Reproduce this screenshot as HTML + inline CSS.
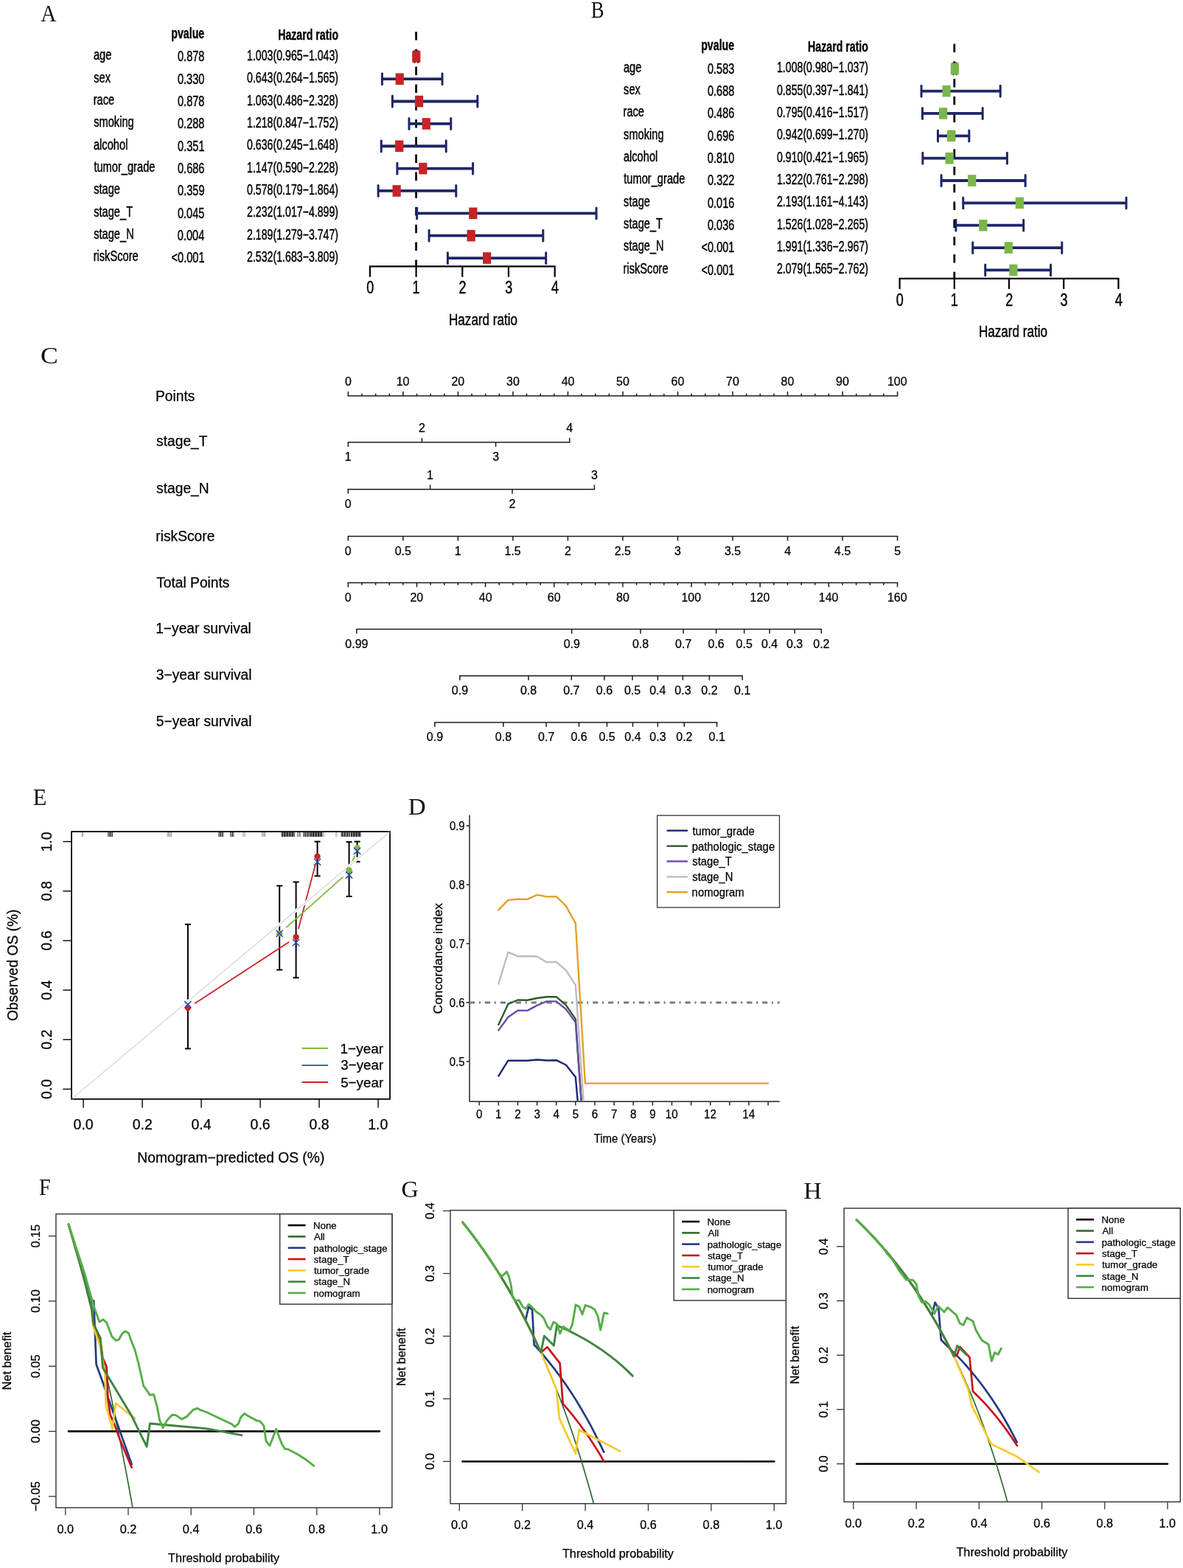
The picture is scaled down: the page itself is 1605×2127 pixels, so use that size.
<!DOCTYPE html>
<html><head><meta charset="utf-8"><title>Figure</title>
<style>html,body{margin:0;padding:0;background:#fff;} svg{display:block;}</style></head>
<body><svg width="1605" height="2127" viewBox="0 0 1605 2127">
<rect x="0" y="0" width="1605" height="2127" fill="#fff"/>
<text x="55.33" y="28.70" font-family='"Liberation Serif", "Times New Roman", serif' font-size="32.20" fill="#111" textLength="21.28" lengthAdjust="spacingAndGlyphs">A</text>
<text x="232.28" y="51.70" font-family='"Liberation Sans", Arial, sans-serif' font-size="20.50" font-weight="bold" fill="#000" textLength="45.01" lengthAdjust="spacingAndGlyphs" stroke="#000" stroke-width="0.35">pvalue</text>
<text x="377.16" y="53.80" font-family='"Liberation Sans", Arial, sans-serif' font-size="20.50" font-weight="bold" fill="#000" textLength="81.89" lengthAdjust="spacingAndGlyphs" stroke="#000" stroke-width="0.35">Hazard ratio</text>
<text x="126.98" y="81.40" font-family='"Liberation Sans", Arial, sans-serif' font-size="19.40" fill="#000" textLength="24.44" lengthAdjust="spacingAndGlyphs" stroke="#000" stroke-width="0.45">age</text>
<text x="241.02" y="83.30" font-family='"Liberation Sans", Arial, sans-serif' font-size="19.40" fill="#000" textLength="36.41" lengthAdjust="spacingAndGlyphs" stroke="#000" stroke-width="0.45">0.878</text>
<text x="335.06" y="82.00" font-family='"Liberation Sans", Arial, sans-serif' font-size="19.40" fill="#000" textLength="124.02" lengthAdjust="spacingAndGlyphs" stroke="#000" stroke-width="0.45">1.003(0.965−1.043)</text>
<text x="127.20" y="111.73" font-family='"Liberation Sans", Arial, sans-serif' font-size="19.40" fill="#000" textLength="22.79" lengthAdjust="spacingAndGlyphs" stroke="#000" stroke-width="0.45">sex</text>
<text x="240.95" y="113.63" font-family='"Liberation Sans", Arial, sans-serif' font-size="19.40" fill="#000" textLength="36.41" lengthAdjust="spacingAndGlyphs" stroke="#000" stroke-width="0.45">0.330</text>
<text x="335.06" y="112.33" font-family='"Liberation Sans", Arial, sans-serif' font-size="19.40" fill="#000" textLength="124.02" lengthAdjust="spacingAndGlyphs" stroke="#000" stroke-width="0.45">0.643(0.264−1.565)</text>
<text x="126.63" y="142.06" font-family='"Liberation Sans", Arial, sans-serif' font-size="19.40" fill="#000" textLength="28.49" lengthAdjust="spacingAndGlyphs" stroke="#000" stroke-width="0.45">race</text>
<text x="241.02" y="143.96" font-family='"Liberation Sans", Arial, sans-serif' font-size="19.40" fill="#000" textLength="36.41" lengthAdjust="spacingAndGlyphs" stroke="#000" stroke-width="0.45">0.878</text>
<text x="335.06" y="142.66" font-family='"Liberation Sans", Arial, sans-serif' font-size="19.40" fill="#000" textLength="124.02" lengthAdjust="spacingAndGlyphs" stroke="#000" stroke-width="0.45">1.063(0.486−2.328)</text>
<text x="127.20" y="172.39" font-family='"Liberation Sans", Arial, sans-serif' font-size="19.40" fill="#000" textLength="54.54" lengthAdjust="spacingAndGlyphs" stroke="#000" stroke-width="0.45">smoking</text>
<text x="241.02" y="174.29" font-family='"Liberation Sans", Arial, sans-serif' font-size="19.40" fill="#000" textLength="36.41" lengthAdjust="spacingAndGlyphs" stroke="#000" stroke-width="0.45">0.288</text>
<text x="335.06" y="172.99" font-family='"Liberation Sans", Arial, sans-serif' font-size="19.40" fill="#000" textLength="124.02" lengthAdjust="spacingAndGlyphs" stroke="#000" stroke-width="0.45">1.218(0.847−1.752)</text>
<text x="126.98" y="202.72" font-family='"Liberation Sans", Arial, sans-serif' font-size="19.40" fill="#000" textLength="46.42" lengthAdjust="spacingAndGlyphs" stroke="#000" stroke-width="0.45">alcohol</text>
<text x="241.09" y="204.62" font-family='"Liberation Sans", Arial, sans-serif' font-size="19.40" fill="#000" textLength="36.41" lengthAdjust="spacingAndGlyphs" stroke="#000" stroke-width="0.45">0.351</text>
<text x="335.06" y="203.32" font-family='"Liberation Sans", Arial, sans-serif' font-size="19.40" fill="#000" textLength="124.02" lengthAdjust="spacingAndGlyphs" stroke="#000" stroke-width="0.45">0.636(0.245−1.648)</text>
<text x="127.38" y="233.05" font-family='"Liberation Sans", Arial, sans-serif' font-size="19.40" fill="#000" textLength="83.05" lengthAdjust="spacingAndGlyphs" stroke="#000" stroke-width="0.45">tumor_grade</text>
<text x="241.02" y="234.95" font-family='"Liberation Sans", Arial, sans-serif' font-size="19.40" fill="#000" textLength="36.41" lengthAdjust="spacingAndGlyphs" stroke="#000" stroke-width="0.45">0.686</text>
<text x="335.06" y="233.65" font-family='"Liberation Sans", Arial, sans-serif' font-size="19.40" fill="#000" textLength="124.02" lengthAdjust="spacingAndGlyphs" stroke="#000" stroke-width="0.45">1.147(0.590−2.228)</text>
<text x="127.20" y="263.38" font-family='"Liberation Sans", Arial, sans-serif' font-size="19.40" fill="#000" textLength="35.83" lengthAdjust="spacingAndGlyphs" stroke="#000" stroke-width="0.45">stage</text>
<text x="241.08" y="265.28" font-family='"Liberation Sans", Arial, sans-serif' font-size="19.40" fill="#000" textLength="36.41" lengthAdjust="spacingAndGlyphs" stroke="#000" stroke-width="0.45">0.359</text>
<text x="335.06" y="263.98" font-family='"Liberation Sans", Arial, sans-serif' font-size="19.40" fill="#000" textLength="124.02" lengthAdjust="spacingAndGlyphs" stroke="#000" stroke-width="0.45">0.578(0.179−1.864)</text>
<text x="127.20" y="293.71" font-family='"Liberation Sans", Arial, sans-serif' font-size="19.40" fill="#000" textLength="52.92" lengthAdjust="spacingAndGlyphs" stroke="#000" stroke-width="0.45">stage_T</text>
<text x="240.99" y="295.61" font-family='"Liberation Sans", Arial, sans-serif' font-size="19.40" fill="#000" textLength="36.41" lengthAdjust="spacingAndGlyphs" stroke="#000" stroke-width="0.45">0.045</text>
<text x="335.06" y="294.31" font-family='"Liberation Sans", Arial, sans-serif' font-size="19.40" fill="#000" textLength="124.02" lengthAdjust="spacingAndGlyphs" stroke="#000" stroke-width="0.45">2.232(1.017−4.899)</text>
<text x="127.20" y="324.04" font-family='"Liberation Sans", Arial, sans-serif' font-size="19.40" fill="#000" textLength="54.55" lengthAdjust="spacingAndGlyphs" stroke="#000" stroke-width="0.45">stage_N</text>
<text x="240.82" y="325.94" font-family='"Liberation Sans", Arial, sans-serif' font-size="19.40" fill="#000" textLength="36.41" lengthAdjust="spacingAndGlyphs" stroke="#000" stroke-width="0.45">0.004</text>
<text x="335.06" y="324.64" font-family='"Liberation Sans", Arial, sans-serif' font-size="19.40" fill="#000" textLength="124.02" lengthAdjust="spacingAndGlyphs" stroke="#000" stroke-width="0.45">2.189(1.279−3.747)</text>
<text x="126.63" y="354.37" font-family='"Liberation Sans", Arial, sans-serif' font-size="19.40" fill="#000" textLength="61.04" lengthAdjust="spacingAndGlyphs" stroke="#000" stroke-width="0.45">riskScore</text>
<text x="232.60" y="356.27" font-family='"Liberation Sans", Arial, sans-serif' font-size="19.40" fill="#000" textLength="44.91" lengthAdjust="spacingAndGlyphs" stroke="#000" stroke-width="0.45">&lt;0.001</text>
<text x="335.06" y="354.97" font-family='"Liberation Sans", Arial, sans-serif' font-size="19.40" fill="#000" textLength="124.02" lengthAdjust="spacingAndGlyphs" stroke="#000" stroke-width="0.45">2.532(1.683−3.809)</text>
<line x1="564.60" y1="43.00" x2="564.60" y2="361.40" stroke="#000" stroke-width="2.8" stroke-dasharray="11.5 12.3"/>
<line x1="562.41" y1="76.80" x2="567.30" y2="76.80" stroke="#1E2666" stroke-width="3.8"/>
<line x1="562.41" y1="69.40" x2="562.41" y2="84.20" stroke="#1E2666" stroke-width="3.0" stroke-linecap="round"/>
<line x1="567.30" y1="69.40" x2="567.30" y2="84.20" stroke="#1E2666" stroke-width="3.0" stroke-linecap="round"/>
<rect x="559.19" y="69.00" width="11.20" height="15.60" fill="#C62326" stroke="none" stroke-width="1"/>
<line x1="518.45" y1="107.16" x2="600.03" y2="107.16" stroke="#1E2666" stroke-width="3.8"/>
<line x1="518.45" y1="99.76" x2="518.45" y2="114.56" stroke="#1E2666" stroke-width="3.0" stroke-linecap="round"/>
<line x1="600.03" y1="99.76" x2="600.03" y2="114.56" stroke="#1E2666" stroke-width="3.0" stroke-linecap="round"/>
<rect x="536.62" y="99.36" width="11.20" height="15.60" fill="#C62326" stroke="none" stroke-width="1"/>
<line x1="532.37" y1="137.52" x2="647.87" y2="137.52" stroke="#1E2666" stroke-width="3.8"/>
<line x1="532.37" y1="130.12" x2="532.37" y2="144.92" stroke="#1E2666" stroke-width="3.0" stroke-linecap="round"/>
<line x1="647.87" y1="130.12" x2="647.87" y2="144.92" stroke="#1E2666" stroke-width="3.0" stroke-linecap="round"/>
<rect x="562.95" y="129.72" width="11.20" height="15.60" fill="#C62326" stroke="none" stroke-width="1"/>
<line x1="555.01" y1="167.88" x2="611.75" y2="167.88" stroke="#1E2666" stroke-width="3.8"/>
<line x1="555.01" y1="160.48" x2="555.01" y2="175.28" stroke="#1E2666" stroke-width="3.0" stroke-linecap="round"/>
<line x1="611.75" y1="160.48" x2="611.75" y2="175.28" stroke="#1E2666" stroke-width="3.0" stroke-linecap="round"/>
<rect x="572.67" y="160.08" width="11.20" height="15.60" fill="#C62326" stroke="none" stroke-width="1"/>
<line x1="517.26" y1="198.24" x2="605.23" y2="198.24" stroke="#1E2666" stroke-width="3.8"/>
<line x1="517.26" y1="190.84" x2="517.26" y2="205.64" stroke="#1E2666" stroke-width="3.0" stroke-linecap="round"/>
<line x1="605.23" y1="190.84" x2="605.23" y2="205.64" stroke="#1E2666" stroke-width="3.0" stroke-linecap="round"/>
<rect x="536.18" y="190.44" width="11.20" height="15.60" fill="#C62326" stroke="none" stroke-width="1"/>
<line x1="538.89" y1="228.60" x2="641.60" y2="228.60" stroke="#1E2666" stroke-width="3.8"/>
<line x1="538.89" y1="221.20" x2="538.89" y2="236.00" stroke="#1E2666" stroke-width="3.0" stroke-linecap="round"/>
<line x1="641.60" y1="221.20" x2="641.60" y2="236.00" stroke="#1E2666" stroke-width="3.0" stroke-linecap="round"/>
<rect x="568.22" y="220.80" width="11.20" height="15.60" fill="#C62326" stroke="none" stroke-width="1"/>
<line x1="513.12" y1="258.96" x2="618.77" y2="258.96" stroke="#1E2666" stroke-width="3.8"/>
<line x1="513.12" y1="251.56" x2="513.12" y2="266.36" stroke="#1E2666" stroke-width="3.0" stroke-linecap="round"/>
<line x1="618.77" y1="251.56" x2="618.77" y2="266.36" stroke="#1E2666" stroke-width="3.0" stroke-linecap="round"/>
<rect x="532.54" y="251.16" width="11.20" height="15.60" fill="#C62326" stroke="none" stroke-width="1"/>
<line x1="565.67" y1="289.32" x2="809.07" y2="289.32" stroke="#1E2666" stroke-width="3.8"/>
<line x1="565.67" y1="281.92" x2="565.67" y2="296.72" stroke="#1E2666" stroke-width="3.0" stroke-linecap="round"/>
<line x1="809.07" y1="281.92" x2="809.07" y2="296.72" stroke="#1E2666" stroke-width="3.0" stroke-linecap="round"/>
<rect x="636.25" y="281.52" width="11.20" height="15.60" fill="#C62326" stroke="none" stroke-width="1"/>
<line x1="582.09" y1="319.68" x2="736.84" y2="319.68" stroke="#1E2666" stroke-width="3.8"/>
<line x1="582.09" y1="312.28" x2="582.09" y2="327.08" stroke="#1E2666" stroke-width="3.0" stroke-linecap="round"/>
<line x1="736.84" y1="312.28" x2="736.84" y2="327.08" stroke="#1E2666" stroke-width="3.0" stroke-linecap="round"/>
<rect x="633.55" y="311.88" width="11.20" height="15.60" fill="#C62326" stroke="none" stroke-width="1"/>
<line x1="607.42" y1="350.04" x2="740.72" y2="350.04" stroke="#1E2666" stroke-width="3.8"/>
<line x1="607.42" y1="342.64" x2="607.42" y2="357.44" stroke="#1E2666" stroke-width="3.0" stroke-linecap="round"/>
<line x1="740.72" y1="342.64" x2="740.72" y2="357.44" stroke="#1E2666" stroke-width="3.0" stroke-linecap="round"/>
<rect x="655.06" y="342.24" width="11.20" height="15.60" fill="#C62326" stroke="none" stroke-width="1"/>
<line x1="500.90" y1="361.40" x2="753.70" y2="361.40" stroke="#000" stroke-width="2.2"/>
<line x1="501.90" y1="361.40" x2="501.90" y2="375.70" stroke="#000" stroke-width="2.2"/>
<text x="497.16" y="398.20" font-family='"Liberation Sans", Arial, sans-serif' font-size="23.80" fill="#000" textLength="10.06" lengthAdjust="spacingAndGlyphs" stroke="#000" stroke-width="0.45">0</text>
<line x1="564.60" y1="361.40" x2="564.60" y2="375.70" stroke="#000" stroke-width="2.2"/>
<text x="559.62" y="398.20" font-family='"Liberation Sans", Arial, sans-serif' font-size="23.80" fill="#000" textLength="10.06" lengthAdjust="spacingAndGlyphs" stroke="#000" stroke-width="0.45">1</text>
<line x1="627.30" y1="361.40" x2="627.30" y2="375.70" stroke="#000" stroke-width="2.2"/>
<text x="622.57" y="398.20" font-family='"Liberation Sans", Arial, sans-serif' font-size="23.80" fill="#000" textLength="10.06" lengthAdjust="spacingAndGlyphs" stroke="#000" stroke-width="0.45">2</text>
<line x1="690.00" y1="361.40" x2="690.00" y2="375.70" stroke="#000" stroke-width="2.2"/>
<text x="685.32" y="398.20" font-family='"Liberation Sans", Arial, sans-serif' font-size="23.80" fill="#000" textLength="10.06" lengthAdjust="spacingAndGlyphs" stroke="#000" stroke-width="0.45">3</text>
<line x1="752.70" y1="361.40" x2="752.70" y2="375.70" stroke="#000" stroke-width="2.2"/>
<text x="748.03" y="398.20" font-family='"Liberation Sans", Arial, sans-serif' font-size="23.80" fill="#000" textLength="10.06" lengthAdjust="spacingAndGlyphs" stroke="#000" stroke-width="0.45">4</text>
<text x="609.00" y="440.80" font-family='"Liberation Sans", Arial, sans-serif' font-size="22.60" fill="#000" textLength="93.10" lengthAdjust="spacingAndGlyphs" stroke="#000" stroke-width="0.45">Hazard ratio</text>
<text x="801.75" y="23.70" font-family='"Liberation Serif", "Times New Roman", serif' font-size="32.20" fill="#111" textLength="17.83" lengthAdjust="spacingAndGlyphs">B</text>
<text x="951.18" y="68.10" font-family='"Liberation Sans", Arial, sans-serif' font-size="20.50" font-weight="bold" fill="#000" textLength="45.01" lengthAdjust="spacingAndGlyphs" stroke="#000" stroke-width="0.35">pvalue</text>
<text x="1096.06" y="70.20" font-family='"Liberation Sans", Arial, sans-serif' font-size="20.50" font-weight="bold" fill="#000" textLength="81.89" lengthAdjust="spacingAndGlyphs" stroke="#000" stroke-width="0.35">Hazard ratio</text>
<text x="845.88" y="97.80" font-family='"Liberation Sans", Arial, sans-serif' font-size="19.40" fill="#000" textLength="24.44" lengthAdjust="spacingAndGlyphs" stroke="#000" stroke-width="0.45">age</text>
<text x="959.92" y="99.70" font-family='"Liberation Sans", Arial, sans-serif' font-size="19.40" fill="#000" textLength="36.41" lengthAdjust="spacingAndGlyphs" stroke="#000" stroke-width="0.45">0.583</text>
<text x="1053.96" y="98.40" font-family='"Liberation Sans", Arial, sans-serif' font-size="19.40" fill="#000" textLength="124.02" lengthAdjust="spacingAndGlyphs" stroke="#000" stroke-width="0.45">1.008(0.980−1.037)</text>
<text x="846.10" y="128.13" font-family='"Liberation Sans", Arial, sans-serif' font-size="19.40" fill="#000" textLength="22.79" lengthAdjust="spacingAndGlyphs" stroke="#000" stroke-width="0.45">sex</text>
<text x="959.92" y="130.03" font-family='"Liberation Sans", Arial, sans-serif' font-size="19.40" fill="#000" textLength="36.41" lengthAdjust="spacingAndGlyphs" stroke="#000" stroke-width="0.45">0.688</text>
<text x="1053.96" y="128.73" font-family='"Liberation Sans", Arial, sans-serif' font-size="19.40" fill="#000" textLength="124.02" lengthAdjust="spacingAndGlyphs" stroke="#000" stroke-width="0.45">0.855(0.397−1.841)</text>
<text x="845.53" y="158.46" font-family='"Liberation Sans", Arial, sans-serif' font-size="19.40" fill="#000" textLength="28.49" lengthAdjust="spacingAndGlyphs" stroke="#000" stroke-width="0.45">race</text>
<text x="959.92" y="160.36" font-family='"Liberation Sans", Arial, sans-serif' font-size="19.40" fill="#000" textLength="36.41" lengthAdjust="spacingAndGlyphs" stroke="#000" stroke-width="0.45">0.486</text>
<text x="1053.96" y="159.06" font-family='"Liberation Sans", Arial, sans-serif' font-size="19.40" fill="#000" textLength="124.02" lengthAdjust="spacingAndGlyphs" stroke="#000" stroke-width="0.45">0.795(0.416−1.517)</text>
<text x="846.10" y="188.79" font-family='"Liberation Sans", Arial, sans-serif' font-size="19.40" fill="#000" textLength="54.54" lengthAdjust="spacingAndGlyphs" stroke="#000" stroke-width="0.45">smoking</text>
<text x="959.92" y="190.69" font-family='"Liberation Sans", Arial, sans-serif' font-size="19.40" fill="#000" textLength="36.41" lengthAdjust="spacingAndGlyphs" stroke="#000" stroke-width="0.45">0.696</text>
<text x="1053.96" y="189.39" font-family='"Liberation Sans", Arial, sans-serif' font-size="19.40" fill="#000" textLength="124.02" lengthAdjust="spacingAndGlyphs" stroke="#000" stroke-width="0.45">0.942(0.699−1.270)</text>
<text x="845.88" y="219.12" font-family='"Liberation Sans", Arial, sans-serif' font-size="19.40" fill="#000" textLength="46.42" lengthAdjust="spacingAndGlyphs" stroke="#000" stroke-width="0.45">alcohol</text>
<text x="959.85" y="221.02" font-family='"Liberation Sans", Arial, sans-serif' font-size="19.40" fill="#000" textLength="36.41" lengthAdjust="spacingAndGlyphs" stroke="#000" stroke-width="0.45">0.810</text>
<text x="1053.96" y="219.72" font-family='"Liberation Sans", Arial, sans-serif' font-size="19.40" fill="#000" textLength="124.02" lengthAdjust="spacingAndGlyphs" stroke="#000" stroke-width="0.45">0.910(0.421−1.965)</text>
<text x="846.28" y="249.45" font-family='"Liberation Sans", Arial, sans-serif' font-size="19.40" fill="#000" textLength="83.05" lengthAdjust="spacingAndGlyphs" stroke="#000" stroke-width="0.45">tumor_grade</text>
<text x="960.02" y="251.35" font-family='"Liberation Sans", Arial, sans-serif' font-size="19.40" fill="#000" textLength="36.41" lengthAdjust="spacingAndGlyphs" stroke="#000" stroke-width="0.45">0.322</text>
<text x="1053.96" y="250.05" font-family='"Liberation Sans", Arial, sans-serif' font-size="19.40" fill="#000" textLength="124.02" lengthAdjust="spacingAndGlyphs" stroke="#000" stroke-width="0.45">1.322(0.761−2.298)</text>
<text x="846.10" y="279.78" font-family='"Liberation Sans", Arial, sans-serif' font-size="19.40" fill="#000" textLength="35.83" lengthAdjust="spacingAndGlyphs" stroke="#000" stroke-width="0.45">stage</text>
<text x="959.92" y="281.68" font-family='"Liberation Sans", Arial, sans-serif' font-size="19.40" fill="#000" textLength="36.41" lengthAdjust="spacingAndGlyphs" stroke="#000" stroke-width="0.45">0.016</text>
<text x="1053.96" y="280.38" font-family='"Liberation Sans", Arial, sans-serif' font-size="19.40" fill="#000" textLength="124.02" lengthAdjust="spacingAndGlyphs" stroke="#000" stroke-width="0.45">2.193(1.161−4.143)</text>
<text x="846.10" y="310.11" font-family='"Liberation Sans", Arial, sans-serif' font-size="19.40" fill="#000" textLength="52.92" lengthAdjust="spacingAndGlyphs" stroke="#000" stroke-width="0.45">stage_T</text>
<text x="959.92" y="312.01" font-family='"Liberation Sans", Arial, sans-serif' font-size="19.40" fill="#000" textLength="36.41" lengthAdjust="spacingAndGlyphs" stroke="#000" stroke-width="0.45">0.036</text>
<text x="1053.96" y="310.71" font-family='"Liberation Sans", Arial, sans-serif' font-size="19.40" fill="#000" textLength="124.02" lengthAdjust="spacingAndGlyphs" stroke="#000" stroke-width="0.45">1.526(1.028−2.265)</text>
<text x="846.10" y="340.44" font-family='"Liberation Sans", Arial, sans-serif' font-size="19.40" fill="#000" textLength="54.55" lengthAdjust="spacingAndGlyphs" stroke="#000" stroke-width="0.45">stage_N</text>
<text x="951.50" y="342.34" font-family='"Liberation Sans", Arial, sans-serif' font-size="19.40" fill="#000" textLength="44.91" lengthAdjust="spacingAndGlyphs" stroke="#000" stroke-width="0.45">&lt;0.001</text>
<text x="1053.96" y="341.04" font-family='"Liberation Sans", Arial, sans-serif' font-size="19.40" fill="#000" textLength="124.02" lengthAdjust="spacingAndGlyphs" stroke="#000" stroke-width="0.45">1.991(1.336−2.967)</text>
<text x="845.53" y="370.77" font-family='"Liberation Sans", Arial, sans-serif' font-size="19.40" fill="#000" textLength="61.04" lengthAdjust="spacingAndGlyphs" stroke="#000" stroke-width="0.45">riskScore</text>
<text x="951.50" y="372.67" font-family='"Liberation Sans", Arial, sans-serif' font-size="19.40" fill="#000" textLength="44.91" lengthAdjust="spacingAndGlyphs" stroke="#000" stroke-width="0.45">&lt;0.001</text>
<text x="1053.96" y="371.37" font-family='"Liberation Sans", Arial, sans-serif' font-size="19.40" fill="#000" textLength="124.02" lengthAdjust="spacingAndGlyphs" stroke="#000" stroke-width="0.45">2.079(1.565−2.762)</text>
<line x1="1294.80" y1="59.40" x2="1294.80" y2="377.80" stroke="#000" stroke-width="2.8" stroke-dasharray="11.5 12.3"/>
<line x1="1293.32" y1="93.20" x2="1297.55" y2="93.20" stroke="#1E2666" stroke-width="3.8"/>
<line x1="1293.32" y1="85.80" x2="1293.32" y2="100.60" stroke="#1E2666" stroke-width="3.0" stroke-linecap="round"/>
<line x1="1297.55" y1="85.80" x2="1297.55" y2="100.60" stroke="#1E2666" stroke-width="3.0" stroke-linecap="round"/>
<rect x="1289.79" y="85.40" width="11.20" height="15.60" fill="#7AB648" stroke="none" stroke-width="1"/>
<line x1="1250.06" y1="123.56" x2="1357.20" y2="123.56" stroke="#1E2666" stroke-width="3.8"/>
<line x1="1250.06" y1="116.16" x2="1250.06" y2="130.96" stroke="#1E2666" stroke-width="3.0" stroke-linecap="round"/>
<line x1="1357.20" y1="116.16" x2="1357.20" y2="130.96" stroke="#1E2666" stroke-width="3.0" stroke-linecap="round"/>
<rect x="1278.44" y="115.76" width="11.20" height="15.60" fill="#7AB648" stroke="none" stroke-width="1"/>
<line x1="1251.47" y1="153.92" x2="1333.16" y2="153.92" stroke="#1E2666" stroke-width="3.8"/>
<line x1="1251.47" y1="146.52" x2="1251.47" y2="161.32" stroke="#1E2666" stroke-width="3.0" stroke-linecap="round"/>
<line x1="1333.16" y1="146.52" x2="1333.16" y2="161.32" stroke="#1E2666" stroke-width="3.0" stroke-linecap="round"/>
<rect x="1273.99" y="146.12" width="11.20" height="15.60" fill="#7AB648" stroke="none" stroke-width="1"/>
<line x1="1272.47" y1="184.28" x2="1314.83" y2="184.28" stroke="#1E2666" stroke-width="3.8"/>
<line x1="1272.47" y1="176.88" x2="1272.47" y2="191.68" stroke="#1E2666" stroke-width="3.0" stroke-linecap="round"/>
<line x1="1314.83" y1="176.88" x2="1314.83" y2="191.68" stroke="#1E2666" stroke-width="3.0" stroke-linecap="round"/>
<rect x="1284.90" y="176.48" width="11.20" height="15.60" fill="#7AB648" stroke="none" stroke-width="1"/>
<line x1="1251.84" y1="214.64" x2="1366.40" y2="214.64" stroke="#1E2666" stroke-width="3.8"/>
<line x1="1251.84" y1="207.24" x2="1251.84" y2="222.04" stroke="#1E2666" stroke-width="3.0" stroke-linecap="round"/>
<line x1="1366.40" y1="207.24" x2="1366.40" y2="222.04" stroke="#1E2666" stroke-width="3.0" stroke-linecap="round"/>
<rect x="1282.52" y="206.84" width="11.20" height="15.60" fill="#7AB648" stroke="none" stroke-width="1"/>
<line x1="1277.07" y1="245.00" x2="1391.11" y2="245.00" stroke="#1E2666" stroke-width="3.8"/>
<line x1="1277.07" y1="237.60" x2="1277.07" y2="252.40" stroke="#1E2666" stroke-width="3.0" stroke-linecap="round"/>
<line x1="1391.11" y1="237.60" x2="1391.11" y2="252.40" stroke="#1E2666" stroke-width="3.0" stroke-linecap="round"/>
<rect x="1313.09" y="237.20" width="11.20" height="15.60" fill="#7AB648" stroke="none" stroke-width="1"/>
<line x1="1306.75" y1="275.36" x2="1528.01" y2="275.36" stroke="#1E2666" stroke-width="3.8"/>
<line x1="1306.75" y1="267.96" x2="1306.75" y2="282.76" stroke="#1E2666" stroke-width="3.0" stroke-linecap="round"/>
<line x1="1528.01" y1="267.96" x2="1528.01" y2="282.76" stroke="#1E2666" stroke-width="3.0" stroke-linecap="round"/>
<rect x="1377.72" y="267.56" width="11.20" height="15.60" fill="#7AB648" stroke="none" stroke-width="1"/>
<line x1="1296.88" y1="305.72" x2="1388.66" y2="305.72" stroke="#1E2666" stroke-width="3.8"/>
<line x1="1296.88" y1="298.32" x2="1296.88" y2="313.12" stroke="#1E2666" stroke-width="3.0" stroke-linecap="round"/>
<line x1="1388.66" y1="298.32" x2="1388.66" y2="313.12" stroke="#1E2666" stroke-width="3.0" stroke-linecap="round"/>
<rect x="1328.23" y="297.92" width="11.20" height="15.60" fill="#7AB648" stroke="none" stroke-width="1"/>
<line x1="1319.73" y1="336.08" x2="1440.75" y2="336.08" stroke="#1E2666" stroke-width="3.8"/>
<line x1="1319.73" y1="328.68" x2="1319.73" y2="343.48" stroke="#1E2666" stroke-width="3.0" stroke-linecap="round"/>
<line x1="1440.75" y1="328.68" x2="1440.75" y2="343.48" stroke="#1E2666" stroke-width="3.0" stroke-linecap="round"/>
<rect x="1362.73" y="328.28" width="11.20" height="15.60" fill="#7AB648" stroke="none" stroke-width="1"/>
<line x1="1336.72" y1="366.44" x2="1425.54" y2="366.44" stroke="#1E2666" stroke-width="3.8"/>
<line x1="1336.72" y1="359.04" x2="1336.72" y2="373.84" stroke="#1E2666" stroke-width="3.0" stroke-linecap="round"/>
<line x1="1425.54" y1="359.04" x2="1425.54" y2="373.84" stroke="#1E2666" stroke-width="3.0" stroke-linecap="round"/>
<rect x="1369.26" y="358.64" width="11.20" height="15.60" fill="#7AB648" stroke="none" stroke-width="1"/>
<line x1="1219.60" y1="377.80" x2="1518.40" y2="377.80" stroke="#000" stroke-width="2.2"/>
<line x1="1220.60" y1="377.80" x2="1220.60" y2="392.10" stroke="#000" stroke-width="2.2"/>
<text x="1215.86" y="414.60" font-family='"Liberation Sans", Arial, sans-serif' font-size="23.80" fill="#000" textLength="10.06" lengthAdjust="spacingAndGlyphs" stroke="#000" stroke-width="0.45">0</text>
<line x1="1294.80" y1="377.80" x2="1294.80" y2="392.10" stroke="#000" stroke-width="2.2"/>
<text x="1289.82" y="414.60" font-family='"Liberation Sans", Arial, sans-serif' font-size="23.80" fill="#000" textLength="10.06" lengthAdjust="spacingAndGlyphs" stroke="#000" stroke-width="0.45">1</text>
<line x1="1369.00" y1="377.80" x2="1369.00" y2="392.10" stroke="#000" stroke-width="2.2"/>
<text x="1364.27" y="414.60" font-family='"Liberation Sans", Arial, sans-serif' font-size="23.80" fill="#000" textLength="10.06" lengthAdjust="spacingAndGlyphs" stroke="#000" stroke-width="0.45">2</text>
<line x1="1443.20" y1="377.80" x2="1443.20" y2="392.10" stroke="#000" stroke-width="2.2"/>
<text x="1438.52" y="414.60" font-family='"Liberation Sans", Arial, sans-serif' font-size="23.80" fill="#000" textLength="10.06" lengthAdjust="spacingAndGlyphs" stroke="#000" stroke-width="0.45">3</text>
<line x1="1517.40" y1="377.80" x2="1517.40" y2="392.10" stroke="#000" stroke-width="2.2"/>
<text x="1512.73" y="414.60" font-family='"Liberation Sans", Arial, sans-serif' font-size="23.80" fill="#000" textLength="10.06" lengthAdjust="spacingAndGlyphs" stroke="#000" stroke-width="0.45">4</text>
<text x="1327.90" y="457.20" font-family='"Liberation Sans", Arial, sans-serif' font-size="22.60" fill="#000" textLength="93.10" lengthAdjust="spacingAndGlyphs" stroke="#000" stroke-width="0.45">Hazard ratio</text>
<text x="54.94" y="493.10" font-family='"Liberation Serif", "Times New Roman", serif' font-size="32.20" fill="#111" textLength="23.83" lengthAdjust="spacingAndGlyphs">C</text>
<text x="211.02" y="544.10" font-family='"Liberation Sans", Arial, sans-serif' font-size="19.50" fill="#000" textLength="53.38" lengthAdjust="spacingAndGlyphs" stroke="#000" stroke-width="0.25">Points</text>
<text x="212.08" y="604.90" font-family='"Liberation Sans", Arial, sans-serif' font-size="19.50" fill="#000" textLength="69.40" lengthAdjust="spacingAndGlyphs" stroke="#000" stroke-width="0.25">stage_T</text>
<text x="212.08" y="668.70" font-family='"Liberation Sans", Arial, sans-serif' font-size="19.50" fill="#000" textLength="71.54" lengthAdjust="spacingAndGlyphs" stroke="#000" stroke-width="0.25">stage_N</text>
<text x="211.33" y="733.70" font-family='"Liberation Sans", Arial, sans-serif' font-size="19.50" fill="#000" textLength="80.05" lengthAdjust="spacingAndGlyphs" stroke="#000" stroke-width="0.25">riskScore</text>
<text x="212.18" y="796.70" font-family='"Liberation Sans", Arial, sans-serif' font-size="19.50" fill="#000" textLength="99.29" lengthAdjust="spacingAndGlyphs" stroke="#000" stroke-width="0.25">Total Points</text>
<text x="211.14" y="858.90" font-family='"Liberation Sans", Arial, sans-serif' font-size="19.50" fill="#000" textLength="129.71" lengthAdjust="spacingAndGlyphs" stroke="#000" stroke-width="0.25">1−year survival</text>
<text x="211.87" y="922.20" font-family='"Liberation Sans", Arial, sans-serif' font-size="19.50" fill="#000" textLength="129.71" lengthAdjust="spacingAndGlyphs" stroke="#000" stroke-width="0.25">3−year survival</text>
<text x="211.83" y="985.00" font-family='"Liberation Sans", Arial, sans-serif' font-size="19.50" fill="#000" textLength="129.71" lengthAdjust="spacingAndGlyphs" stroke="#000" stroke-width="0.25">5−year survival</text>
<line x1="472.40" y1="537.10" x2="1217.60" y2="537.10" stroke="#1a1a1a" stroke-width="1.5" stroke-linecap="square"/>
<line x1="472.40" y1="537.10" x2="472.40" y2="531.10" stroke="#1a1a1a" stroke-width="1.5"/>
<text x="467.94" y="523.20" font-family='"Liberation Sans", Arial, sans-serif' font-size="16.00" fill="#000" stroke="#000" stroke-width="0.25">0</text>
<line x1="491.03" y1="537.10" x2="491.03" y2="533.90" stroke="#1a1a1a" stroke-width="1.5"/>
<line x1="509.66" y1="537.10" x2="509.66" y2="533.90" stroke="#1a1a1a" stroke-width="1.5"/>
<line x1="528.29" y1="537.10" x2="528.29" y2="533.90" stroke="#1a1a1a" stroke-width="1.5"/>
<line x1="546.92" y1="537.10" x2="546.92" y2="531.10" stroke="#1a1a1a" stroke-width="1.5"/>
<text x="537.72" y="523.20" font-family='"Liberation Sans", Arial, sans-serif' font-size="16.00" fill="#000" stroke="#000" stroke-width="0.25">10</text>
<line x1="565.55" y1="537.10" x2="565.55" y2="533.90" stroke="#1a1a1a" stroke-width="1.5"/>
<line x1="584.18" y1="537.10" x2="584.18" y2="533.90" stroke="#1a1a1a" stroke-width="1.5"/>
<line x1="602.81" y1="537.10" x2="602.81" y2="533.90" stroke="#1a1a1a" stroke-width="1.5"/>
<line x1="621.44" y1="537.10" x2="621.44" y2="531.10" stroke="#1a1a1a" stroke-width="1.5"/>
<text x="612.45" y="523.20" font-family='"Liberation Sans", Arial, sans-serif' font-size="16.00" fill="#000" stroke="#000" stroke-width="0.25">20</text>
<line x1="640.07" y1="537.10" x2="640.07" y2="533.90" stroke="#1a1a1a" stroke-width="1.5"/>
<line x1="658.70" y1="537.10" x2="658.70" y2="533.90" stroke="#1a1a1a" stroke-width="1.5"/>
<line x1="677.33" y1="537.10" x2="677.33" y2="533.90" stroke="#1a1a1a" stroke-width="1.5"/>
<line x1="695.96" y1="537.10" x2="695.96" y2="531.10" stroke="#1a1a1a" stroke-width="1.5"/>
<text x="687.06" y="523.20" font-family='"Liberation Sans", Arial, sans-serif' font-size="16.00" fill="#000" stroke="#000" stroke-width="0.25">30</text>
<line x1="714.59" y1="537.10" x2="714.59" y2="533.90" stroke="#1a1a1a" stroke-width="1.5"/>
<line x1="733.22" y1="537.10" x2="733.22" y2="533.90" stroke="#1a1a1a" stroke-width="1.5"/>
<line x1="751.85" y1="537.10" x2="751.85" y2="533.90" stroke="#1a1a1a" stroke-width="1.5"/>
<line x1="770.48" y1="537.10" x2="770.48" y2="531.10" stroke="#1a1a1a" stroke-width="1.5"/>
<text x="761.71" y="523.20" font-family='"Liberation Sans", Arial, sans-serif' font-size="16.00" fill="#000" stroke="#000" stroke-width="0.25">40</text>
<line x1="789.11" y1="537.10" x2="789.11" y2="533.90" stroke="#1a1a1a" stroke-width="1.5"/>
<line x1="807.74" y1="537.10" x2="807.74" y2="533.90" stroke="#1a1a1a" stroke-width="1.5"/>
<line x1="826.37" y1="537.10" x2="826.37" y2="533.90" stroke="#1a1a1a" stroke-width="1.5"/>
<line x1="845.00" y1="537.10" x2="845.00" y2="531.10" stroke="#1a1a1a" stroke-width="1.5"/>
<text x="836.09" y="523.20" font-family='"Liberation Sans", Arial, sans-serif' font-size="16.00" fill="#000" stroke="#000" stroke-width="0.25">50</text>
<line x1="863.63" y1="537.10" x2="863.63" y2="533.90" stroke="#1a1a1a" stroke-width="1.5"/>
<line x1="882.26" y1="537.10" x2="882.26" y2="533.90" stroke="#1a1a1a" stroke-width="1.5"/>
<line x1="900.89" y1="537.10" x2="900.89" y2="533.90" stroke="#1a1a1a" stroke-width="1.5"/>
<line x1="919.52" y1="537.10" x2="919.52" y2="531.10" stroke="#1a1a1a" stroke-width="1.5"/>
<text x="910.53" y="523.20" font-family='"Liberation Sans", Arial, sans-serif' font-size="16.00" fill="#000" stroke="#000" stroke-width="0.25">60</text>
<line x1="938.15" y1="537.10" x2="938.15" y2="533.90" stroke="#1a1a1a" stroke-width="1.5"/>
<line x1="956.78" y1="537.10" x2="956.78" y2="533.90" stroke="#1a1a1a" stroke-width="1.5"/>
<line x1="975.41" y1="537.10" x2="975.41" y2="533.90" stroke="#1a1a1a" stroke-width="1.5"/>
<line x1="994.04" y1="537.10" x2="994.04" y2="531.10" stroke="#1a1a1a" stroke-width="1.5"/>
<text x="985.04" y="523.20" font-family='"Liberation Sans", Arial, sans-serif' font-size="16.00" fill="#000" stroke="#000" stroke-width="0.25">70</text>
<line x1="1012.67" y1="537.10" x2="1012.67" y2="533.90" stroke="#1a1a1a" stroke-width="1.5"/>
<line x1="1031.30" y1="537.10" x2="1031.30" y2="533.90" stroke="#1a1a1a" stroke-width="1.5"/>
<line x1="1049.93" y1="537.10" x2="1049.93" y2="533.90" stroke="#1a1a1a" stroke-width="1.5"/>
<line x1="1068.56" y1="537.10" x2="1068.56" y2="531.10" stroke="#1a1a1a" stroke-width="1.5"/>
<text x="1059.62" y="523.20" font-family='"Liberation Sans", Arial, sans-serif' font-size="16.00" fill="#000" stroke="#000" stroke-width="0.25">80</text>
<line x1="1087.19" y1="537.10" x2="1087.19" y2="533.90" stroke="#1a1a1a" stroke-width="1.5"/>
<line x1="1105.82" y1="537.10" x2="1105.82" y2="533.90" stroke="#1a1a1a" stroke-width="1.5"/>
<line x1="1124.45" y1="537.10" x2="1124.45" y2="533.90" stroke="#1a1a1a" stroke-width="1.5"/>
<line x1="1143.08" y1="537.10" x2="1143.08" y2="531.10" stroke="#1a1a1a" stroke-width="1.5"/>
<text x="1134.12" y="523.20" font-family='"Liberation Sans", Arial, sans-serif' font-size="16.00" fill="#000" stroke="#000" stroke-width="0.25">90</text>
<line x1="1161.71" y1="537.10" x2="1161.71" y2="533.90" stroke="#1a1a1a" stroke-width="1.5"/>
<line x1="1180.34" y1="537.10" x2="1180.34" y2="533.90" stroke="#1a1a1a" stroke-width="1.5"/>
<line x1="1198.97" y1="537.10" x2="1198.97" y2="533.90" stroke="#1a1a1a" stroke-width="1.5"/>
<line x1="1217.60" y1="537.10" x2="1217.60" y2="531.10" stroke="#1a1a1a" stroke-width="1.5"/>
<text x="1203.95" y="523.20" font-family='"Liberation Sans", Arial, sans-serif' font-size="16.00" fill="#000" stroke="#000" stroke-width="0.25">100</text>
<line x1="472.30" y1="600.10" x2="772.75" y2="600.10" stroke="#1a1a1a" stroke-width="1.5" stroke-linecap="square"/>
<line x1="472.30" y1="600.10" x2="472.30" y2="606.10" stroke="#1a1a1a" stroke-width="1.5"/>
<text x="467.63" y="625.30" font-family='"Liberation Sans", Arial, sans-serif' font-size="16.00" fill="#000" stroke="#000" stroke-width="0.25">1</text>
<line x1="572.45" y1="600.10" x2="572.45" y2="594.10" stroke="#1a1a1a" stroke-width="1.5"/>
<text x="568.00" y="586.20" font-family='"Liberation Sans", Arial, sans-serif' font-size="16.00" fill="#000" stroke="#000" stroke-width="0.25">2</text>
<line x1="672.60" y1="600.10" x2="672.60" y2="606.10" stroke="#1a1a1a" stroke-width="1.5"/>
<text x="668.19" y="625.30" font-family='"Liberation Sans", Arial, sans-serif' font-size="16.00" fill="#000" stroke="#000" stroke-width="0.25">3</text>
<line x1="772.75" y1="600.10" x2="772.75" y2="594.10" stroke="#1a1a1a" stroke-width="1.5"/>
<text x="768.36" y="586.20" font-family='"Liberation Sans", Arial, sans-serif' font-size="16.00" fill="#000" stroke="#000" stroke-width="0.25">4</text>
<line x1="472.30" y1="663.70" x2="806.41" y2="663.70" stroke="#1a1a1a" stroke-width="1.5" stroke-linecap="square"/>
<line x1="472.30" y1="663.70" x2="472.30" y2="669.70" stroke="#1a1a1a" stroke-width="1.5"/>
<text x="467.84" y="688.90" font-family='"Liberation Sans", Arial, sans-serif' font-size="16.00" fill="#000" stroke="#000" stroke-width="0.25">0</text>
<line x1="583.67" y1="663.70" x2="583.67" y2="657.70" stroke="#1a1a1a" stroke-width="1.5"/>
<text x="579.00" y="649.80" font-family='"Liberation Sans", Arial, sans-serif' font-size="16.00" fill="#000" stroke="#000" stroke-width="0.25">1</text>
<line x1="695.04" y1="663.70" x2="695.04" y2="669.70" stroke="#1a1a1a" stroke-width="1.5"/>
<text x="690.59" y="688.90" font-family='"Liberation Sans", Arial, sans-serif' font-size="16.00" fill="#000" stroke="#000" stroke-width="0.25">2</text>
<line x1="806.41" y1="663.70" x2="806.41" y2="657.70" stroke="#1a1a1a" stroke-width="1.5"/>
<text x="802.00" y="649.80" font-family='"Liberation Sans", Arial, sans-serif' font-size="16.00" fill="#000" stroke="#000" stroke-width="0.25">3</text>
<line x1="472.30" y1="727.60" x2="1217.60" y2="727.60" stroke="#1a1a1a" stroke-width="1.5" stroke-linecap="square"/>
<line x1="472.30" y1="727.60" x2="472.30" y2="733.60" stroke="#1a1a1a" stroke-width="1.5"/>
<text x="467.84" y="752.80" font-family='"Liberation Sans", Arial, sans-serif' font-size="16.00" fill="#000" stroke="#000" stroke-width="0.25">0</text>
<line x1="546.83" y1="727.60" x2="546.83" y2="733.60" stroke="#1a1a1a" stroke-width="1.5"/>
<text x="535.73" y="752.80" font-family='"Liberation Sans", Arial, sans-serif' font-size="16.00" fill="#000" stroke="#000" stroke-width="0.25">0.5</text>
<line x1="621.36" y1="727.60" x2="621.36" y2="733.60" stroke="#1a1a1a" stroke-width="1.5"/>
<text x="616.69" y="752.80" font-family='"Liberation Sans", Arial, sans-serif' font-size="16.00" fill="#000" stroke="#000" stroke-width="0.25">1</text>
<line x1="695.89" y1="727.60" x2="695.89" y2="733.60" stroke="#1a1a1a" stroke-width="1.5"/>
<text x="684.49" y="752.80" font-family='"Liberation Sans", Arial, sans-serif' font-size="16.00" fill="#000" stroke="#000" stroke-width="0.25">1.5</text>
<line x1="770.42" y1="727.60" x2="770.42" y2="733.60" stroke="#1a1a1a" stroke-width="1.5"/>
<text x="765.97" y="752.80" font-family='"Liberation Sans", Arial, sans-serif' font-size="16.00" fill="#000" stroke="#000" stroke-width="0.25">2</text>
<line x1="844.95" y1="727.60" x2="844.95" y2="733.60" stroke="#1a1a1a" stroke-width="1.5"/>
<text x="833.76" y="752.80" font-family='"Liberation Sans", Arial, sans-serif' font-size="16.00" fill="#000" stroke="#000" stroke-width="0.25">2.5</text>
<line x1="919.48" y1="727.60" x2="919.48" y2="733.60" stroke="#1a1a1a" stroke-width="1.5"/>
<text x="915.07" y="752.80" font-family='"Liberation Sans", Arial, sans-serif' font-size="16.00" fill="#000" stroke="#000" stroke-width="0.25">3</text>
<line x1="994.01" y1="727.60" x2="994.01" y2="733.60" stroke="#1a1a1a" stroke-width="1.5"/>
<text x="982.91" y="752.80" font-family='"Liberation Sans", Arial, sans-serif' font-size="16.00" fill="#000" stroke="#000" stroke-width="0.25">3.5</text>
<line x1="1068.54" y1="727.60" x2="1068.54" y2="733.60" stroke="#1a1a1a" stroke-width="1.5"/>
<text x="1064.15" y="752.80" font-family='"Liberation Sans", Arial, sans-serif' font-size="16.00" fill="#000" stroke="#000" stroke-width="0.25">4</text>
<line x1="1143.07" y1="727.60" x2="1143.07" y2="733.60" stroke="#1a1a1a" stroke-width="1.5"/>
<text x="1132.10" y="752.80" font-family='"Liberation Sans", Arial, sans-serif' font-size="16.00" fill="#000" stroke="#000" stroke-width="0.25">4.5</text>
<line x1="1217.60" y1="727.60" x2="1217.60" y2="733.60" stroke="#1a1a1a" stroke-width="1.5"/>
<text x="1213.16" y="752.80" font-family='"Liberation Sans", Arial, sans-serif' font-size="16.00" fill="#000" stroke="#000" stroke-width="0.25">5</text>
<line x1="472.30" y1="790.40" x2="1217.55" y2="790.40" stroke="#1a1a1a" stroke-width="1.5" stroke-linecap="square"/>
<line x1="472.30" y1="790.40" x2="472.30" y2="796.40" stroke="#1a1a1a" stroke-width="1.5"/>
<text x="467.84" y="815.60" font-family='"Liberation Sans", Arial, sans-serif' font-size="16.00" fill="#000" stroke="#000" stroke-width="0.25">0</text>
<line x1="490.93" y1="790.40" x2="490.93" y2="793.80" stroke="#1a1a1a" stroke-width="1.5"/>
<line x1="509.56" y1="790.40" x2="509.56" y2="793.80" stroke="#1a1a1a" stroke-width="1.5"/>
<line x1="528.19" y1="790.40" x2="528.19" y2="793.80" stroke="#1a1a1a" stroke-width="1.5"/>
<line x1="546.82" y1="790.40" x2="546.82" y2="793.80" stroke="#1a1a1a" stroke-width="1.5"/>
<line x1="565.46" y1="790.40" x2="565.46" y2="796.40" stroke="#1a1a1a" stroke-width="1.5"/>
<text x="556.46" y="815.60" font-family='"Liberation Sans", Arial, sans-serif' font-size="16.00" fill="#000" stroke="#000" stroke-width="0.25">20</text>
<line x1="584.09" y1="790.40" x2="584.09" y2="793.80" stroke="#1a1a1a" stroke-width="1.5"/>
<line x1="602.72" y1="790.40" x2="602.72" y2="793.80" stroke="#1a1a1a" stroke-width="1.5"/>
<line x1="621.35" y1="790.40" x2="621.35" y2="793.80" stroke="#1a1a1a" stroke-width="1.5"/>
<line x1="639.98" y1="790.40" x2="639.98" y2="793.80" stroke="#1a1a1a" stroke-width="1.5"/>
<line x1="658.61" y1="790.40" x2="658.61" y2="796.40" stroke="#1a1a1a" stroke-width="1.5"/>
<text x="649.84" y="815.60" font-family='"Liberation Sans", Arial, sans-serif' font-size="16.00" fill="#000" stroke="#000" stroke-width="0.25">40</text>
<line x1="677.24" y1="790.40" x2="677.24" y2="793.80" stroke="#1a1a1a" stroke-width="1.5"/>
<line x1="695.87" y1="790.40" x2="695.87" y2="793.80" stroke="#1a1a1a" stroke-width="1.5"/>
<line x1="714.51" y1="790.40" x2="714.51" y2="793.80" stroke="#1a1a1a" stroke-width="1.5"/>
<line x1="733.14" y1="790.40" x2="733.14" y2="793.80" stroke="#1a1a1a" stroke-width="1.5"/>
<line x1="751.77" y1="790.40" x2="751.77" y2="796.40" stroke="#1a1a1a" stroke-width="1.5"/>
<text x="742.78" y="815.60" font-family='"Liberation Sans", Arial, sans-serif' font-size="16.00" fill="#000" stroke="#000" stroke-width="0.25">60</text>
<line x1="770.40" y1="790.40" x2="770.40" y2="793.80" stroke="#1a1a1a" stroke-width="1.5"/>
<line x1="789.03" y1="790.40" x2="789.03" y2="793.80" stroke="#1a1a1a" stroke-width="1.5"/>
<line x1="807.66" y1="790.40" x2="807.66" y2="793.80" stroke="#1a1a1a" stroke-width="1.5"/>
<line x1="826.29" y1="790.40" x2="826.29" y2="793.80" stroke="#1a1a1a" stroke-width="1.5"/>
<line x1="844.92" y1="790.40" x2="844.92" y2="796.40" stroke="#1a1a1a" stroke-width="1.5"/>
<text x="835.99" y="815.60" font-family='"Liberation Sans", Arial, sans-serif' font-size="16.00" fill="#000" stroke="#000" stroke-width="0.25">80</text>
<line x1="863.56" y1="790.40" x2="863.56" y2="793.80" stroke="#1a1a1a" stroke-width="1.5"/>
<line x1="882.19" y1="790.40" x2="882.19" y2="793.80" stroke="#1a1a1a" stroke-width="1.5"/>
<line x1="900.82" y1="790.40" x2="900.82" y2="793.80" stroke="#1a1a1a" stroke-width="1.5"/>
<line x1="919.45" y1="790.40" x2="919.45" y2="793.80" stroke="#1a1a1a" stroke-width="1.5"/>
<line x1="938.08" y1="790.40" x2="938.08" y2="796.40" stroke="#1a1a1a" stroke-width="1.5"/>
<text x="924.43" y="815.60" font-family='"Liberation Sans", Arial, sans-serif' font-size="16.00" fill="#000" stroke="#000" stroke-width="0.25">100</text>
<line x1="956.71" y1="790.40" x2="956.71" y2="793.80" stroke="#1a1a1a" stroke-width="1.5"/>
<line x1="975.34" y1="790.40" x2="975.34" y2="793.80" stroke="#1a1a1a" stroke-width="1.5"/>
<line x1="993.97" y1="790.40" x2="993.97" y2="793.80" stroke="#1a1a1a" stroke-width="1.5"/>
<line x1="1012.60" y1="790.40" x2="1012.60" y2="793.80" stroke="#1a1a1a" stroke-width="1.5"/>
<line x1="1031.24" y1="790.40" x2="1031.24" y2="796.40" stroke="#1a1a1a" stroke-width="1.5"/>
<text x="1017.59" y="815.60" font-family='"Liberation Sans", Arial, sans-serif' font-size="16.00" fill="#000" stroke="#000" stroke-width="0.25">120</text>
<line x1="1049.87" y1="790.40" x2="1049.87" y2="793.80" stroke="#1a1a1a" stroke-width="1.5"/>
<line x1="1068.50" y1="790.40" x2="1068.50" y2="793.80" stroke="#1a1a1a" stroke-width="1.5"/>
<line x1="1087.13" y1="790.40" x2="1087.13" y2="793.80" stroke="#1a1a1a" stroke-width="1.5"/>
<line x1="1105.76" y1="790.40" x2="1105.76" y2="793.80" stroke="#1a1a1a" stroke-width="1.5"/>
<line x1="1124.39" y1="790.40" x2="1124.39" y2="796.40" stroke="#1a1a1a" stroke-width="1.5"/>
<text x="1110.74" y="815.60" font-family='"Liberation Sans", Arial, sans-serif' font-size="16.00" fill="#000" stroke="#000" stroke-width="0.25">140</text>
<line x1="1143.02" y1="790.40" x2="1143.02" y2="793.80" stroke="#1a1a1a" stroke-width="1.5"/>
<line x1="1161.65" y1="790.40" x2="1161.65" y2="793.80" stroke="#1a1a1a" stroke-width="1.5"/>
<line x1="1180.29" y1="790.40" x2="1180.29" y2="793.80" stroke="#1a1a1a" stroke-width="1.5"/>
<line x1="1198.92" y1="790.40" x2="1198.92" y2="793.80" stroke="#1a1a1a" stroke-width="1.5"/>
<line x1="1217.55" y1="790.40" x2="1217.55" y2="796.40" stroke="#1a1a1a" stroke-width="1.5"/>
<text x="1203.90" y="815.60" font-family='"Liberation Sans", Arial, sans-serif' font-size="16.00" fill="#000" stroke="#000" stroke-width="0.25">160</text>
<line x1="483.80" y1="853.50" x2="1114.30" y2="853.50" stroke="#1a1a1a" stroke-width="1.5" stroke-linecap="square"/>
<line x1="483.80" y1="853.50" x2="483.80" y2="859.50" stroke="#1a1a1a" stroke-width="1.5"/>
<text x="468.30" y="878.70" font-family='"Liberation Sans", Arial, sans-serif' font-size="16.00" fill="#000" stroke="#000" stroke-width="0.25">0.99</text>
<line x1="775.70" y1="853.50" x2="775.70" y2="859.50" stroke="#1a1a1a" stroke-width="1.5"/>
<text x="764.64" y="878.70" font-family='"Liberation Sans", Arial, sans-serif' font-size="16.00" fill="#000" stroke="#000" stroke-width="0.25">0.9</text>
<line x1="869.00" y1="853.50" x2="869.00" y2="859.50" stroke="#1a1a1a" stroke-width="1.5"/>
<text x="857.91" y="878.70" font-family='"Liberation Sans", Arial, sans-serif' font-size="16.00" fill="#000" stroke="#000" stroke-width="0.25">0.8</text>
<line x1="927.10" y1="853.50" x2="927.10" y2="859.50" stroke="#1a1a1a" stroke-width="1.5"/>
<text x="916.07" y="878.70" font-family='"Liberation Sans", Arial, sans-serif' font-size="16.00" fill="#000" stroke="#000" stroke-width="0.25">0.7</text>
<line x1="971.60" y1="853.50" x2="971.60" y2="859.50" stroke="#1a1a1a" stroke-width="1.5"/>
<text x="960.51" y="878.70" font-family='"Liberation Sans", Arial, sans-serif' font-size="16.00" fill="#000" stroke="#000" stroke-width="0.25">0.6</text>
<line x1="1009.70" y1="853.50" x2="1009.70" y2="859.50" stroke="#1a1a1a" stroke-width="1.5"/>
<text x="998.60" y="878.70" font-family='"Liberation Sans", Arial, sans-serif' font-size="16.00" fill="#000" stroke="#000" stroke-width="0.25">0.5</text>
<line x1="1044.20" y1="853.50" x2="1044.20" y2="859.50" stroke="#1a1a1a" stroke-width="1.5"/>
<text x="1033.00" y="878.70" font-family='"Liberation Sans", Arial, sans-serif' font-size="16.00" fill="#000" stroke="#000" stroke-width="0.25">0.4</text>
<line x1="1078.10" y1="853.50" x2="1078.10" y2="859.50" stroke="#1a1a1a" stroke-width="1.5"/>
<text x="1067.01" y="878.70" font-family='"Liberation Sans", Arial, sans-serif' font-size="16.00" fill="#000" stroke="#000" stroke-width="0.25">0.3</text>
<line x1="1114.30" y1="853.50" x2="1114.30" y2="859.50" stroke="#1a1a1a" stroke-width="1.5"/>
<text x="1103.27" y="878.70" font-family='"Liberation Sans", Arial, sans-serif' font-size="16.00" fill="#000" stroke="#000" stroke-width="0.25">0.2</text>
<line x1="623.90" y1="916.70" x2="1007.10" y2="916.70" stroke="#1a1a1a" stroke-width="1.5" stroke-linecap="square"/>
<line x1="623.90" y1="916.70" x2="623.90" y2="922.70" stroke="#1a1a1a" stroke-width="1.5"/>
<text x="612.84" y="941.90" font-family='"Liberation Sans", Arial, sans-serif' font-size="16.00" fill="#000" stroke="#000" stroke-width="0.25">0.9</text>
<line x1="717.00" y1="916.70" x2="717.00" y2="922.70" stroke="#1a1a1a" stroke-width="1.5"/>
<text x="705.91" y="941.90" font-family='"Liberation Sans", Arial, sans-serif' font-size="16.00" fill="#000" stroke="#000" stroke-width="0.25">0.8</text>
<line x1="775.30" y1="916.70" x2="775.30" y2="922.70" stroke="#1a1a1a" stroke-width="1.5"/>
<text x="764.27" y="941.90" font-family='"Liberation Sans", Arial, sans-serif' font-size="16.00" fill="#000" stroke="#000" stroke-width="0.25">0.7</text>
<line x1="819.90" y1="916.70" x2="819.90" y2="922.70" stroke="#1a1a1a" stroke-width="1.5"/>
<text x="808.81" y="941.90" font-family='"Liberation Sans", Arial, sans-serif' font-size="16.00" fill="#000" stroke="#000" stroke-width="0.25">0.6</text>
<line x1="858.00" y1="916.70" x2="858.00" y2="922.70" stroke="#1a1a1a" stroke-width="1.5"/>
<text x="846.90" y="941.90" font-family='"Liberation Sans", Arial, sans-serif' font-size="16.00" fill="#000" stroke="#000" stroke-width="0.25">0.5</text>
<line x1="892.40" y1="916.70" x2="892.40" y2="922.70" stroke="#1a1a1a" stroke-width="1.5"/>
<text x="881.20" y="941.90" font-family='"Liberation Sans", Arial, sans-serif' font-size="16.00" fill="#000" stroke="#000" stroke-width="0.25">0.4</text>
<line x1="926.40" y1="916.70" x2="926.40" y2="922.70" stroke="#1a1a1a" stroke-width="1.5"/>
<text x="915.31" y="941.90" font-family='"Liberation Sans", Arial, sans-serif' font-size="16.00" fill="#000" stroke="#000" stroke-width="0.25">0.3</text>
<line x1="962.40" y1="916.70" x2="962.40" y2="922.70" stroke="#1a1a1a" stroke-width="1.5"/>
<text x="951.37" y="941.90" font-family='"Liberation Sans", Arial, sans-serif' font-size="16.00" fill="#000" stroke="#000" stroke-width="0.25">0.2</text>
<line x1="1007.10" y1="916.70" x2="1007.10" y2="922.70" stroke="#1a1a1a" stroke-width="1.5"/>
<text x="996.05" y="941.90" font-family='"Liberation Sans", Arial, sans-serif' font-size="16.00" fill="#000" stroke="#000" stroke-width="0.25">0.1</text>
<line x1="589.90" y1="979.90" x2="972.60" y2="979.90" stroke="#1a1a1a" stroke-width="1.5" stroke-linecap="square"/>
<line x1="589.90" y1="979.90" x2="589.90" y2="985.90" stroke="#1a1a1a" stroke-width="1.5"/>
<text x="578.84" y="1005.10" font-family='"Liberation Sans", Arial, sans-serif' font-size="16.00" fill="#000" stroke="#000" stroke-width="0.25">0.9</text>
<line x1="682.90" y1="979.90" x2="682.90" y2="985.90" stroke="#1a1a1a" stroke-width="1.5"/>
<text x="671.81" y="1005.10" font-family='"Liberation Sans", Arial, sans-serif' font-size="16.00" fill="#000" stroke="#000" stroke-width="0.25">0.8</text>
<line x1="741.10" y1="979.90" x2="741.10" y2="985.90" stroke="#1a1a1a" stroke-width="1.5"/>
<text x="730.07" y="1005.10" font-family='"Liberation Sans", Arial, sans-serif' font-size="16.00" fill="#000" stroke="#000" stroke-width="0.25">0.7</text>
<line x1="785.50" y1="979.90" x2="785.50" y2="985.90" stroke="#1a1a1a" stroke-width="1.5"/>
<text x="774.41" y="1005.10" font-family='"Liberation Sans", Arial, sans-serif' font-size="16.00" fill="#000" stroke="#000" stroke-width="0.25">0.6</text>
<line x1="823.50" y1="979.90" x2="823.50" y2="985.90" stroke="#1a1a1a" stroke-width="1.5"/>
<text x="812.40" y="1005.10" font-family='"Liberation Sans", Arial, sans-serif' font-size="16.00" fill="#000" stroke="#000" stroke-width="0.25">0.5</text>
<line x1="858.50" y1="979.90" x2="858.50" y2="985.90" stroke="#1a1a1a" stroke-width="1.5"/>
<text x="847.30" y="1005.10" font-family='"Liberation Sans", Arial, sans-serif' font-size="16.00" fill="#000" stroke="#000" stroke-width="0.25">0.4</text>
<line x1="892.40" y1="979.90" x2="892.40" y2="985.90" stroke="#1a1a1a" stroke-width="1.5"/>
<text x="881.31" y="1005.10" font-family='"Liberation Sans", Arial, sans-serif' font-size="16.00" fill="#000" stroke="#000" stroke-width="0.25">0.3</text>
<line x1="928.30" y1="979.90" x2="928.30" y2="985.90" stroke="#1a1a1a" stroke-width="1.5"/>
<text x="917.27" y="1005.10" font-family='"Liberation Sans", Arial, sans-serif' font-size="16.00" fill="#000" stroke="#000" stroke-width="0.25">0.2</text>
<line x1="972.60" y1="979.90" x2="972.60" y2="985.90" stroke="#1a1a1a" stroke-width="1.5"/>
<text x="961.55" y="1005.10" font-family='"Liberation Sans", Arial, sans-serif' font-size="16.00" fill="#000" stroke="#000" stroke-width="0.25">0.1</text>
<text x="44.65" y="1092.30" font-family='"Liberation Serif", "Times New Roman", serif' font-size="32.20" fill="#111" textLength="18.65" lengthAdjust="spacingAndGlyphs">E</text>
<line x1="111.20" y1="1128.90" x2="111.20" y2="1135.10" stroke="#000" stroke-width="1.0" stroke-opacity="0.38"/>
<line x1="112.60" y1="1128.90" x2="112.60" y2="1135.10" stroke="#000" stroke-width="1.0" stroke-opacity="0.38"/>
<line x1="146.80" y1="1128.90" x2="146.80" y2="1135.10" stroke="#000" stroke-width="1.0" stroke-opacity="0.83"/>
<line x1="148.20" y1="1128.90" x2="148.20" y2="1135.10" stroke="#000" stroke-width="1.0" stroke-opacity="0.83"/>
<line x1="149.60" y1="1128.90" x2="149.60" y2="1135.10" stroke="#000" stroke-width="1.0" stroke-opacity="0.83"/>
<line x1="151.00" y1="1128.90" x2="151.00" y2="1135.10" stroke="#000" stroke-width="1.0" stroke-opacity="0.83"/>
<line x1="152.40" y1="1128.90" x2="152.40" y2="1135.10" stroke="#000" stroke-width="1.0" stroke-opacity="0.83"/>
<line x1="227.00" y1="1128.90" x2="227.00" y2="1135.10" stroke="#000" stroke-width="1.0" stroke-opacity="0.38"/>
<line x1="228.40" y1="1128.90" x2="228.40" y2="1135.10" stroke="#000" stroke-width="1.0" stroke-opacity="0.38"/>
<line x1="229.80" y1="1128.90" x2="229.80" y2="1135.10" stroke="#000" stroke-width="1.0" stroke-opacity="0.38"/>
<line x1="231.20" y1="1128.90" x2="231.20" y2="1135.10" stroke="#000" stroke-width="1.0" stroke-opacity="0.38"/>
<line x1="232.60" y1="1128.90" x2="232.60" y2="1135.10" stroke="#000" stroke-width="1.0" stroke-opacity="0.38"/>
<line x1="296.90" y1="1128.90" x2="296.90" y2="1135.10" stroke="#000" stroke-width="1.0" stroke-opacity="0.83"/>
<line x1="298.30" y1="1128.90" x2="298.30" y2="1135.10" stroke="#000" stroke-width="1.0" stroke-opacity="0.83"/>
<line x1="299.70" y1="1128.90" x2="299.70" y2="1135.10" stroke="#000" stroke-width="1.0" stroke-opacity="0.83"/>
<line x1="301.10" y1="1128.90" x2="301.10" y2="1135.10" stroke="#000" stroke-width="1.0" stroke-opacity="0.83"/>
<line x1="302.50" y1="1128.90" x2="302.50" y2="1135.10" stroke="#000" stroke-width="1.0" stroke-opacity="0.83"/>
<line x1="312.70" y1="1128.90" x2="312.70" y2="1135.10" stroke="#000" stroke-width="1.0" stroke-opacity="0.75"/>
<line x1="314.10" y1="1128.90" x2="314.10" y2="1135.10" stroke="#000" stroke-width="1.0" stroke-opacity="0.75"/>
<line x1="315.50" y1="1128.90" x2="315.50" y2="1135.10" stroke="#000" stroke-width="1.0" stroke-opacity="0.75"/>
<line x1="316.90" y1="1128.90" x2="316.90" y2="1135.10" stroke="#000" stroke-width="1.0" stroke-opacity="0.75"/>
<line x1="329.60" y1="1128.90" x2="329.60" y2="1135.10" stroke="#000" stroke-width="1.0" stroke-opacity="0.30"/>
<line x1="331.00" y1="1128.90" x2="331.00" y2="1135.10" stroke="#000" stroke-width="1.0" stroke-opacity="0.30"/>
<line x1="332.40" y1="1128.90" x2="332.40" y2="1135.10" stroke="#000" stroke-width="1.0" stroke-opacity="0.30"/>
<line x1="355.60" y1="1128.90" x2="355.60" y2="1135.10" stroke="#000" stroke-width="1.0" stroke-opacity="0.38"/>
<line x1="357.00" y1="1128.90" x2="357.00" y2="1135.10" stroke="#000" stroke-width="1.0" stroke-opacity="0.38"/>
<line x1="358.40" y1="1128.90" x2="358.40" y2="1135.10" stroke="#000" stroke-width="1.0" stroke-opacity="0.38"/>
<line x1="359.80" y1="1128.90" x2="359.80" y2="1135.10" stroke="#000" stroke-width="1.0" stroke-opacity="0.38"/>
<line x1="382.40" y1="1128.90" x2="382.40" y2="1135.10" stroke="#000" stroke-width="1.0" stroke-opacity="0.98"/>
<line x1="383.80" y1="1128.90" x2="383.80" y2="1135.10" stroke="#000" stroke-width="1.0" stroke-opacity="0.98"/>
<line x1="385.20" y1="1128.90" x2="385.20" y2="1135.10" stroke="#000" stroke-width="1.0" stroke-opacity="0.98"/>
<line x1="386.60" y1="1128.90" x2="386.60" y2="1135.10" stroke="#000" stroke-width="1.0" stroke-opacity="0.98"/>
<line x1="388.00" y1="1128.90" x2="388.00" y2="1135.10" stroke="#000" stroke-width="1.0" stroke-opacity="0.98"/>
<line x1="389.40" y1="1128.90" x2="389.40" y2="1135.10" stroke="#000" stroke-width="1.0" stroke-opacity="0.98"/>
<line x1="390.80" y1="1128.90" x2="390.80" y2="1135.10" stroke="#000" stroke-width="1.0" stroke-opacity="0.98"/>
<line x1="392.20" y1="1128.90" x2="392.20" y2="1135.10" stroke="#000" stroke-width="1.0" stroke-opacity="0.98"/>
<line x1="393.60" y1="1128.90" x2="393.60" y2="1135.10" stroke="#000" stroke-width="1.0" stroke-opacity="0.98"/>
<line x1="395.00" y1="1128.90" x2="395.00" y2="1135.10" stroke="#000" stroke-width="1.0" stroke-opacity="0.98"/>
<line x1="396.40" y1="1128.90" x2="396.40" y2="1135.10" stroke="#000" stroke-width="1.0" stroke-opacity="0.98"/>
<line x1="397.80" y1="1128.90" x2="397.80" y2="1135.10" stroke="#000" stroke-width="1.0" stroke-opacity="0.98"/>
<line x1="399.20" y1="1128.90" x2="399.20" y2="1135.10" stroke="#000" stroke-width="1.0" stroke-opacity="0.98"/>
<line x1="403.60" y1="1128.90" x2="403.60" y2="1135.10" stroke="#000" stroke-width="1.0" stroke-opacity="0.52"/>
<line x1="405.00" y1="1128.90" x2="405.00" y2="1135.10" stroke="#000" stroke-width="1.0" stroke-opacity="0.52"/>
<line x1="406.40" y1="1128.90" x2="406.40" y2="1135.10" stroke="#000" stroke-width="1.0" stroke-opacity="0.52"/>
<line x1="407.80" y1="1128.90" x2="407.80" y2="1135.10" stroke="#000" stroke-width="1.0" stroke-opacity="0.52"/>
<line x1="411.80" y1="1128.90" x2="411.80" y2="1135.10" stroke="#000" stroke-width="1.0" stroke-opacity="0.83"/>
<line x1="413.20" y1="1128.90" x2="413.20" y2="1135.10" stroke="#000" stroke-width="1.0" stroke-opacity="0.83"/>
<line x1="414.60" y1="1128.90" x2="414.60" y2="1135.10" stroke="#000" stroke-width="1.0" stroke-opacity="0.83"/>
<line x1="416.00" y1="1128.90" x2="416.00" y2="1135.10" stroke="#000" stroke-width="1.0" stroke-opacity="0.83"/>
<line x1="417.40" y1="1128.90" x2="417.40" y2="1135.10" stroke="#000" stroke-width="1.0" stroke-opacity="0.83"/>
<line x1="418.80" y1="1128.90" x2="418.80" y2="1135.10" stroke="#000" stroke-width="1.0" stroke-opacity="0.83"/>
<line x1="420.20" y1="1128.90" x2="420.20" y2="1135.10" stroke="#000" stroke-width="1.0" stroke-opacity="0.83"/>
<line x1="421.60" y1="1128.90" x2="421.60" y2="1135.10" stroke="#000" stroke-width="1.0" stroke-opacity="0.83"/>
<line x1="422.80" y1="1128.90" x2="422.80" y2="1135.10" stroke="#000" stroke-width="1.0" stroke-opacity="1.00"/>
<line x1="424.20" y1="1128.90" x2="424.20" y2="1135.10" stroke="#000" stroke-width="1.0" stroke-opacity="1.00"/>
<line x1="425.60" y1="1128.90" x2="425.60" y2="1135.10" stroke="#000" stroke-width="1.0" stroke-opacity="1.00"/>
<line x1="427.00" y1="1128.90" x2="427.00" y2="1135.10" stroke="#000" stroke-width="1.0" stroke-opacity="1.00"/>
<line x1="428.40" y1="1128.90" x2="428.40" y2="1135.10" stroke="#000" stroke-width="1.0" stroke-opacity="1.00"/>
<line x1="429.80" y1="1128.90" x2="429.80" y2="1135.10" stroke="#000" stroke-width="1.0" stroke-opacity="1.00"/>
<line x1="431.20" y1="1128.90" x2="431.20" y2="1135.10" stroke="#000" stroke-width="1.0" stroke-opacity="1.00"/>
<line x1="432.60" y1="1128.90" x2="432.60" y2="1135.10" stroke="#000" stroke-width="1.0" stroke-opacity="1.00"/>
<line x1="434.00" y1="1128.90" x2="434.00" y2="1135.10" stroke="#000" stroke-width="1.0" stroke-opacity="1.00"/>
<line x1="435.40" y1="1128.90" x2="435.40" y2="1135.10" stroke="#000" stroke-width="1.0" stroke-opacity="1.00"/>
<line x1="436.80" y1="1128.90" x2="436.80" y2="1135.10" stroke="#000" stroke-width="1.0" stroke-opacity="1.00"/>
<line x1="438.60" y1="1128.90" x2="438.60" y2="1135.10" stroke="#000" stroke-width="1.0" stroke-opacity="0.30"/>
<line x1="440.00" y1="1128.90" x2="440.00" y2="1135.10" stroke="#000" stroke-width="1.0" stroke-opacity="0.30"/>
<line x1="455.70" y1="1128.90" x2="455.70" y2="1135.10" stroke="#000" stroke-width="1.0" stroke-opacity="0.30"/>
<line x1="457.10" y1="1128.90" x2="457.10" y2="1135.10" stroke="#000" stroke-width="1.0" stroke-opacity="0.30"/>
<line x1="463.20" y1="1128.90" x2="463.20" y2="1135.10" stroke="#000" stroke-width="1.0" stroke-opacity="0.90"/>
<line x1="464.60" y1="1128.90" x2="464.60" y2="1135.10" stroke="#000" stroke-width="1.0" stroke-opacity="0.90"/>
<line x1="466.00" y1="1128.90" x2="466.00" y2="1135.10" stroke="#000" stroke-width="1.0" stroke-opacity="0.90"/>
<line x1="467.40" y1="1128.90" x2="467.40" y2="1135.10" stroke="#000" stroke-width="1.0" stroke-opacity="0.90"/>
<line x1="468.80" y1="1128.90" x2="468.80" y2="1135.10" stroke="#000" stroke-width="1.0" stroke-opacity="0.90"/>
<line x1="470.20" y1="1128.90" x2="470.20" y2="1135.10" stroke="#000" stroke-width="1.0" stroke-opacity="0.90"/>
<line x1="471.60" y1="1128.90" x2="471.60" y2="1135.10" stroke="#000" stroke-width="1.0" stroke-opacity="0.90"/>
<line x1="473.00" y1="1128.90" x2="473.00" y2="1135.10" stroke="#000" stroke-width="1.0" stroke-opacity="0.90"/>
<line x1="474.40" y1="1128.90" x2="474.40" y2="1135.10" stroke="#000" stroke-width="1.0" stroke-opacity="0.90"/>
<line x1="476.40" y1="1128.90" x2="476.40" y2="1135.10" stroke="#000" stroke-width="1.0" stroke-opacity="1.00"/>
<line x1="477.80" y1="1128.90" x2="477.80" y2="1135.10" stroke="#000" stroke-width="1.0" stroke-opacity="1.00"/>
<line x1="479.20" y1="1128.90" x2="479.20" y2="1135.10" stroke="#000" stroke-width="1.0" stroke-opacity="1.00"/>
<line x1="480.60" y1="1128.90" x2="480.60" y2="1135.10" stroke="#000" stroke-width="1.0" stroke-opacity="1.00"/>
<line x1="482.00" y1="1128.90" x2="482.00" y2="1135.10" stroke="#000" stroke-width="1.0" stroke-opacity="1.00"/>
<line x1="483.40" y1="1128.90" x2="483.40" y2="1135.10" stroke="#000" stroke-width="1.0" stroke-opacity="1.00"/>
<line x1="484.80" y1="1128.90" x2="484.80" y2="1135.10" stroke="#000" stroke-width="1.0" stroke-opacity="1.00"/>
<line x1="486.20" y1="1128.90" x2="486.20" y2="1135.10" stroke="#000" stroke-width="1.0" stroke-opacity="1.00"/>
<line x1="487.60" y1="1128.90" x2="487.60" y2="1135.10" stroke="#000" stroke-width="1.0" stroke-opacity="1.00"/>
<line x1="489.00" y1="1128.90" x2="489.00" y2="1135.10" stroke="#000" stroke-width="1.0" stroke-opacity="1.00"/>
<rect x="97.10" y="1128.17" width="432.00" height="362.66" fill="none" stroke="#000" stroke-width="1.4"/>
<line x1="113.10" y1="1490.80" x2="113.10" y2="1502.80" stroke="#000" stroke-width="1.4"/>
<text x="99.54" y="1532.10" font-family='"Liberation Sans", Arial, sans-serif' font-size="19.50" fill="#000" stroke="#000" stroke-width="0.25">0.0</text>
<line x1="85.40" y1="1477.40" x2="97.10" y2="1477.40" stroke="#000" stroke-width="1.4"/>
<g transform="translate(69.80,0) rotate(-90)"><text x="-1490.96" y="0.00" font-family='"Liberation Sans", Arial, sans-serif' font-size="19.50" fill="#000" stroke="#000" stroke-width="0.25">0.0</text></g>
<line x1="193.10" y1="1490.80" x2="193.10" y2="1502.80" stroke="#000" stroke-width="1.4"/>
<text x="179.65" y="1532.10" font-family='"Liberation Sans", Arial, sans-serif' font-size="19.50" fill="#000" stroke="#000" stroke-width="0.25">0.2</text>
<line x1="85.40" y1="1410.24" x2="97.10" y2="1410.24" stroke="#000" stroke-width="1.4"/>
<g transform="translate(69.80,0) rotate(-90)"><text x="-1423.69" y="0.00" font-family='"Liberation Sans", Arial, sans-serif' font-size="19.50" fill="#000" stroke="#000" stroke-width="0.25">0.2</text></g>
<line x1="273.10" y1="1490.80" x2="273.10" y2="1502.80" stroke="#000" stroke-width="1.4"/>
<text x="259.45" y="1532.10" font-family='"Liberation Sans", Arial, sans-serif' font-size="19.50" fill="#000" stroke="#000" stroke-width="0.25">0.4</text>
<line x1="85.40" y1="1343.08" x2="97.10" y2="1343.08" stroke="#000" stroke-width="1.4"/>
<g transform="translate(69.80,0) rotate(-90)"><text x="-1356.73" y="0.00" font-family='"Liberation Sans", Arial, sans-serif' font-size="19.50" fill="#000" stroke="#000" stroke-width="0.25">0.4</text></g>
<line x1="353.10" y1="1490.80" x2="353.10" y2="1502.80" stroke="#000" stroke-width="1.4"/>
<text x="339.59" y="1532.10" font-family='"Liberation Sans", Arial, sans-serif' font-size="19.50" fill="#000" stroke="#000" stroke-width="0.25">0.6</text>
<line x1="85.40" y1="1275.92" x2="97.10" y2="1275.92" stroke="#000" stroke-width="1.4"/>
<g transform="translate(69.80,0) rotate(-90)"><text x="-1289.43" y="0.00" font-family='"Liberation Sans", Arial, sans-serif' font-size="19.50" fill="#000" stroke="#000" stroke-width="0.25">0.6</text></g>
<line x1="433.10" y1="1490.80" x2="433.10" y2="1502.80" stroke="#000" stroke-width="1.4"/>
<text x="419.59" y="1532.10" font-family='"Liberation Sans", Arial, sans-serif' font-size="19.50" fill="#000" stroke="#000" stroke-width="0.25">0.8</text>
<line x1="85.40" y1="1208.76" x2="97.10" y2="1208.76" stroke="#000" stroke-width="1.4"/>
<g transform="translate(69.80,0) rotate(-90)"><text x="-1222.27" y="0.00" font-family='"Liberation Sans", Arial, sans-serif' font-size="19.50" fill="#000" stroke="#000" stroke-width="0.25">0.8</text></g>
<line x1="513.10" y1="1490.80" x2="513.10" y2="1502.80" stroke="#000" stroke-width="1.4"/>
<text x="499.18" y="1532.10" font-family='"Liberation Sans", Arial, sans-serif' font-size="19.50" fill="#000" stroke="#000" stroke-width="0.25">1.0</text>
<line x1="85.40" y1="1141.60" x2="97.10" y2="1141.60" stroke="#000" stroke-width="1.4"/>
<g transform="translate(69.80,0) rotate(-90)"><text x="-1155.52" y="0.00" font-family='"Liberation Sans", Arial, sans-serif' font-size="19.50" fill="#000" stroke="#000" stroke-width="0.25">1.0</text></g>
<text x="186.32" y="1577.40" font-family='"Liberation Sans", Arial, sans-serif' font-size="19.50" fill="#000" textLength="253.98" lengthAdjust="spacingAndGlyphs" stroke="#000" stroke-width="0.25">Nomogram−predicted OS (%)</text>
<g transform="translate(24.10,0) rotate(-90)"><text x="-1385.10" y="0.00" font-family='"Liberation Sans", Arial, sans-serif' font-size="19.50" fill="#000" textLength="151.50" lengthAdjust="spacingAndGlyphs" stroke="#000" stroke-width="0.25">Observed OS (%)</text></g>
<line x1="254.90" y1="1253.90" x2="254.90" y2="1422.50" stroke="#000" stroke-width="2.0"/>
<line x1="250.90" y1="1253.90" x2="258.90" y2="1253.90" stroke="#000" stroke-width="2.0"/>
<line x1="250.90" y1="1422.50" x2="258.90" y2="1422.50" stroke="#000" stroke-width="2.0"/>
<line x1="379.20" y1="1201.60" x2="379.20" y2="1315.60" stroke="#000" stroke-width="2.0"/>
<line x1="375.20" y1="1201.60" x2="383.20" y2="1201.60" stroke="#000" stroke-width="2.0"/>
<line x1="375.20" y1="1315.60" x2="383.20" y2="1315.60" stroke="#000" stroke-width="2.0"/>
<line x1="401.60" y1="1196.40" x2="401.60" y2="1326.30" stroke="#000" stroke-width="2.0"/>
<line x1="397.60" y1="1196.40" x2="405.60" y2="1196.40" stroke="#000" stroke-width="2.0"/>
<line x1="397.60" y1="1326.30" x2="405.60" y2="1326.30" stroke="#000" stroke-width="2.0"/>
<line x1="430.60" y1="1141.60" x2="430.60" y2="1188.30" stroke="#000" stroke-width="2.0"/>
<line x1="426.60" y1="1141.60" x2="434.60" y2="1141.60" stroke="#000" stroke-width="2.0"/>
<line x1="426.60" y1="1188.30" x2="434.60" y2="1188.30" stroke="#000" stroke-width="2.0"/>
<line x1="473.60" y1="1142.10" x2="473.60" y2="1216.00" stroke="#000" stroke-width="2.0"/>
<line x1="469.60" y1="1142.10" x2="477.60" y2="1142.10" stroke="#000" stroke-width="2.0"/>
<line x1="469.60" y1="1216.00" x2="477.60" y2="1216.00" stroke="#000" stroke-width="2.0"/>
<line x1="484.60" y1="1141.60" x2="484.60" y2="1168.90" stroke="#000" stroke-width="2.0"/>
<line x1="480.60" y1="1141.60" x2="488.60" y2="1141.60" stroke="#000" stroke-width="2.0"/>
<line x1="480.60" y1="1168.90" x2="488.60" y2="1168.90" stroke="#000" stroke-width="2.0"/>
<line x1="264.20" y1="1361.20" x2="392.20" y2="1277.70" stroke="#CC2229" stroke-width="1.8"/>
<line x1="404.80" y1="1260.30" x2="428.10" y2="1172.10" stroke="#CC2229" stroke-width="1.8"/>
<line x1="387.90" y1="1258.60" x2="465.50" y2="1189.40" stroke="#7DBB3C" stroke-width="1.8"/>
<line x1="477.10" y1="1170.70" x2="481.40" y2="1160.80" stroke="#7DBB3C" stroke-width="1.8"/>
<line x1="97.10" y1="1490.83" x2="529.10" y2="1128.17" stroke="#fff" stroke-width="4.0"/>
<line x1="97.10" y1="1490.83" x2="529.10" y2="1128.17" stroke="#d9d9d9" stroke-width="1.4"/>
<circle cx="379.2" cy="1266.4" r="4.2" fill="#7DBB3C"/>
<circle cx="473.6" cy="1180.5" r="4.2" fill="#7DBB3C"/>
<circle cx="484.6" cy="1150.2" r="4.2" fill="#7DBB3C"/>
<circle cx="254.9" cy="1367" r="4.2" fill="#CC2229"/>
<circle cx="401.6" cy="1271.1" r="4.2" fill="#CC2229"/>
<circle cx="430.6" cy="1161.8" r="4.2" fill="#CC2229"/>
<path d="M250.3,1358.1L259.5,1367.3M250.3,1367.3L259.5,1358.1" stroke="#2F4FB5" stroke-width="1.6" fill="none"/>
<path d="M374.6,1261.8L383.8,1271.0M374.6,1271.0L383.8,1261.8" stroke="#2F4FB5" stroke-width="1.6" fill="none"/>
<path d="M397.0,1274.0L406.2,1283.2M397.0,1283.2L406.2,1274.0" stroke="#2F4FB5" stroke-width="1.6" fill="none"/>
<path d="M426.0,1164.7L435.2,1173.9M426.0,1173.9L435.2,1164.7" stroke="#2F4FB5" stroke-width="1.6" fill="none"/>
<path d="M469.0,1182.4L478.2,1191.6M469.0,1191.6L478.2,1182.4" stroke="#2F4FB5" stroke-width="1.6" fill="none"/>
<path d="M480.0,1149.7L489.2,1158.9M480.0,1158.9L489.2,1149.7" stroke="#2F4FB5" stroke-width="1.6" fill="none"/>
<rect x="97.10" y="1128.17" width="432.00" height="362.66" fill="none" stroke="#000" stroke-width="1.4"/>
<line x1="409.60" y1="1422.00" x2="445.10" y2="1422.00" stroke="#7DBB3C" stroke-width="1.9"/>
<text x="461.45" y="1428.50" font-family='"Liberation Sans", Arial, sans-serif' font-size="19.20" fill="#000" textLength="58.76" lengthAdjust="spacingAndGlyphs" stroke="#000" stroke-width="0.25">1−year</text>
<line x1="409.60" y1="1445.10" x2="445.10" y2="1445.10" stroke="#2F4FB5" stroke-width="1.9"/>
<text x="462.19" y="1451.40" font-family='"Liberation Sans", Arial, sans-serif' font-size="19.20" fill="#000" textLength="58.02" lengthAdjust="spacingAndGlyphs" stroke="#000" stroke-width="0.25">3−year</text>
<line x1="409.60" y1="1468.00" x2="445.10" y2="1468.00" stroke="#CC2229" stroke-width="1.9"/>
<text x="462.15" y="1474.60" font-family='"Liberation Sans", Arial, sans-serif' font-size="19.20" fill="#000" textLength="58.06" lengthAdjust="spacingAndGlyphs" stroke="#000" stroke-width="0.25">5−year</text>
<text x="553.77" y="1104.70" font-family='"Liberation Serif", "Times New Roman", serif' font-size="32.20" fill="#111" textLength="23.93" lengthAdjust="spacingAndGlyphs">D</text>
<line x1="637.00" y1="1105.70" x2="637.00" y2="1494.20" stroke="#222" stroke-width="1.5"/>
<line x1="637.00" y1="1494.20" x2="1057.80" y2="1494.20" stroke="#222" stroke-width="1.5"/>
<line x1="632.60" y1="1439.90" x2="637.00" y2="1439.90" stroke="#222" stroke-width="1.5"/>
<text x="609.79" y="1445.90" font-family='"Liberation Sans", Arial, sans-serif' font-size="16.20" fill="#000" textLength="20.72" lengthAdjust="spacingAndGlyphs" stroke="#000" stroke-width="0.25">0.5</text>
<line x1="632.60" y1="1359.95" x2="637.00" y2="1359.95" stroke="#222" stroke-width="1.5"/>
<text x="609.82" y="1365.95" font-family='"Liberation Sans", Arial, sans-serif' font-size="16.20" fill="#000" textLength="20.72" lengthAdjust="spacingAndGlyphs" stroke="#000" stroke-width="0.25">0.6</text>
<line x1="632.60" y1="1280.00" x2="637.00" y2="1280.00" stroke="#222" stroke-width="1.5"/>
<text x="609.93" y="1286.00" font-family='"Liberation Sans", Arial, sans-serif' font-size="16.20" fill="#000" textLength="20.72" lengthAdjust="spacingAndGlyphs" stroke="#000" stroke-width="0.25">0.7</text>
<line x1="632.60" y1="1200.05" x2="637.00" y2="1200.05" stroke="#222" stroke-width="1.5"/>
<text x="609.82" y="1206.05" font-family='"Liberation Sans", Arial, sans-serif' font-size="16.20" fill="#000" textLength="20.72" lengthAdjust="spacingAndGlyphs" stroke="#000" stroke-width="0.25">0.8</text>
<line x1="632.60" y1="1120.10" x2="637.00" y2="1120.10" stroke="#222" stroke-width="1.5"/>
<text x="609.88" y="1126.10" font-family='"Liberation Sans", Arial, sans-serif' font-size="16.20" fill="#000" textLength="20.72" lengthAdjust="spacingAndGlyphs" stroke="#000" stroke-width="0.25">0.9</text>
<line x1="650.20" y1="1494.20" x2="650.20" y2="1499.60" stroke="#222" stroke-width="1.5"/>
<text x="645.97" y="1517.40" font-family='"Liberation Sans", Arial, sans-serif' font-size="16.00" fill="#000" textLength="8.45" lengthAdjust="spacingAndGlyphs" stroke="#000" stroke-width="0.25">0</text>
<line x1="676.33" y1="1494.20" x2="676.33" y2="1499.60" stroke="#222" stroke-width="1.5"/>
<text x="671.89" y="1517.40" font-family='"Liberation Sans", Arial, sans-serif' font-size="16.00" fill="#000" textLength="8.45" lengthAdjust="spacingAndGlyphs" stroke="#000" stroke-width="0.25">1</text>
<line x1="702.46" y1="1494.20" x2="702.46" y2="1499.60" stroke="#222" stroke-width="1.5"/>
<text x="698.23" y="1517.40" font-family='"Liberation Sans", Arial, sans-serif' font-size="16.00" fill="#000" textLength="8.45" lengthAdjust="spacingAndGlyphs" stroke="#000" stroke-width="0.25">2</text>
<line x1="728.59" y1="1494.20" x2="728.59" y2="1499.60" stroke="#222" stroke-width="1.5"/>
<text x="724.40" y="1517.40" font-family='"Liberation Sans", Arial, sans-serif' font-size="16.00" fill="#000" textLength="8.45" lengthAdjust="spacingAndGlyphs" stroke="#000" stroke-width="0.25">3</text>
<line x1="754.72" y1="1494.20" x2="754.72" y2="1499.60" stroke="#222" stroke-width="1.5"/>
<text x="750.55" y="1517.40" font-family='"Liberation Sans", Arial, sans-serif' font-size="16.00" fill="#000" textLength="8.45" lengthAdjust="spacingAndGlyphs" stroke="#000" stroke-width="0.25">4</text>
<line x1="780.85" y1="1494.20" x2="780.85" y2="1499.60" stroke="#222" stroke-width="1.5"/>
<text x="776.63" y="1517.40" font-family='"Liberation Sans", Arial, sans-serif' font-size="16.00" fill="#000" textLength="8.45" lengthAdjust="spacingAndGlyphs" stroke="#000" stroke-width="0.25">5</text>
<line x1="806.98" y1="1494.20" x2="806.98" y2="1499.60" stroke="#222" stroke-width="1.5"/>
<text x="802.70" y="1517.40" font-family='"Liberation Sans", Arial, sans-serif' font-size="16.00" fill="#000" textLength="8.45" lengthAdjust="spacingAndGlyphs" stroke="#000" stroke-width="0.25">6</text>
<line x1="833.11" y1="1494.20" x2="833.11" y2="1499.60" stroke="#222" stroke-width="1.5"/>
<text x="828.88" y="1517.40" font-family='"Liberation Sans", Arial, sans-serif' font-size="16.00" fill="#000" textLength="8.45" lengthAdjust="spacingAndGlyphs" stroke="#000" stroke-width="0.25">7</text>
<line x1="859.24" y1="1494.20" x2="859.24" y2="1499.60" stroke="#222" stroke-width="1.5"/>
<text x="855.01" y="1517.40" font-family='"Liberation Sans", Arial, sans-serif' font-size="16.00" fill="#000" textLength="8.45" lengthAdjust="spacingAndGlyphs" stroke="#000" stroke-width="0.25">8</text>
<line x1="885.37" y1="1494.20" x2="885.37" y2="1499.60" stroke="#222" stroke-width="1.5"/>
<text x="881.15" y="1517.40" font-family='"Liberation Sans", Arial, sans-serif' font-size="16.00" fill="#000" textLength="8.45" lengthAdjust="spacingAndGlyphs" stroke="#000" stroke-width="0.25">9</text>
<line x1="911.50" y1="1494.20" x2="911.50" y2="1499.60" stroke="#222" stroke-width="1.5"/>
<text x="902.76" y="1517.40" font-family='"Liberation Sans", Arial, sans-serif' font-size="16.00" fill="#000" textLength="16.91" lengthAdjust="spacingAndGlyphs" stroke="#000" stroke-width="0.25">10</text>
<line x1="937.63" y1="1494.20" x2="937.63" y2="1499.60" stroke="#222" stroke-width="1.5"/>
<line x1="963.76" y1="1494.20" x2="963.76" y2="1499.60" stroke="#222" stroke-width="1.5"/>
<text x="955.11" y="1517.40" font-family='"Liberation Sans", Arial, sans-serif' font-size="16.00" fill="#000" textLength="16.91" lengthAdjust="spacingAndGlyphs" stroke="#000" stroke-width="0.25">12</text>
<line x1="989.89" y1="1494.20" x2="989.89" y2="1499.60" stroke="#222" stroke-width="1.5"/>
<line x1="1016.02" y1="1494.20" x2="1016.02" y2="1499.60" stroke="#222" stroke-width="1.5"/>
<text x="1007.21" y="1517.40" font-family='"Liberation Sans", Arial, sans-serif' font-size="16.00" fill="#000" textLength="16.91" lengthAdjust="spacingAndGlyphs" stroke="#000" stroke-width="0.25">14</text>
<line x1="1042.15" y1="1494.20" x2="1042.15" y2="1499.60" stroke="#222" stroke-width="1.5"/>
<text x="805.67" y="1549.80" font-family='"Liberation Sans", Arial, sans-serif' font-size="16.00" fill="#000" textLength="84.56" lengthAdjust="spacingAndGlyphs" stroke="#000" stroke-width="0.25">Time (Years)</text>
<g transform="translate(599.90,0) rotate(-90)"><text x="-1375.47" y="0.00" font-family='"Liberation Sans", Arial, sans-serif' font-size="16.50" fill="#000" textLength="150.44" lengthAdjust="spacingAndGlyphs" stroke="#000" stroke-width="0.25">Concordance index</text></g>
<line x1="637.00" y1="1359.95" x2="1057.80" y2="1359.95" stroke="#7a7a7a" stroke-width="3.0" stroke-dasharray="7.2 5.6 2.2 5.9"/>
<defs><clipPath id="clipD"><rect x="637" y="1100" width="430" height="393.5"/></clipPath></defs>
<g clip-path="url(#clipD)">
<polyline points="676.33,1459.60 689.40,1438.70 702.46,1438.70 715.53,1438.70 728.59,1437.50 741.66,1438.50 754.72,1438.20 767.79,1444.50 780.85,1461.10 793.92,1607.00" fill="none" stroke="#1C2872" stroke-width="2.4" stroke-linejoin="round" stroke-linecap="round"/>
<polyline points="676.33,1389.90 689.40,1361.90 702.46,1356.50 715.53,1356.70 728.59,1354.00 741.66,1352.20 754.72,1352.20 767.79,1363.40 780.85,1382.40 793.92,1568.00" fill="none" stroke="#2B5B2B" stroke-width="2.4" stroke-linejoin="round" stroke-linecap="round"/>
<polyline points="676.33,1397.60 689.40,1379.70 702.46,1370.70 715.53,1370.90 728.59,1363.90 741.66,1358.40 754.72,1358.40 767.79,1368.90 780.85,1386.90 793.92,1565.00" fill="none" stroke="#6A4BA6" stroke-width="2.4" stroke-linejoin="round" stroke-linecap="round"/>
<polyline points="676.33,1334.60 689.40,1291.70 702.46,1297.20 715.53,1297.00 728.59,1297.50 741.66,1305.20 754.72,1304.90 767.79,1316.10 780.85,1336.10 793.92,1527.00" fill="none" stroke="#BDBDBD" stroke-width="2.4" stroke-linejoin="round" stroke-linecap="round"/>
<polyline points="676.33,1234.40 689.40,1220.90 702.46,1219.70 715.53,1219.90 728.59,1213.90 741.66,1216.40 754.72,1216.10 767.79,1228.90 780.85,1252.30 793.92,1469.60 1042.15,1469.60" fill="none" stroke="#E5A021" stroke-width="2.4" stroke-linejoin="round" stroke-linecap="round"/>
</g>
<rect x="891.70" y="1106.20" width="165.80" height="124.80" fill="#fff" stroke="#333" stroke-width="1.3"/>
<line x1="904.60" y1="1126.70" x2="933.00" y2="1126.70" stroke="#1C2872" stroke-width="2.4"/>
<text x="939.38" y="1132.70" font-family='"Liberation Sans", Arial, sans-serif' font-size="16.00" fill="#000" textLength="84.37" lengthAdjust="spacingAndGlyphs" stroke="#000" stroke-width="0.25">tumor_grade</text>
<line x1="904.60" y1="1147.70" x2="933.00" y2="1147.70" stroke="#2B5B2B" stroke-width="2.4"/>
<text x="938.65" y="1153.60" font-family='"Liberation Sans", Arial, sans-serif' font-size="16.00" fill="#000" textLength="112.52" lengthAdjust="spacingAndGlyphs" stroke="#000" stroke-width="0.25">pathologic_stage</text>
<line x1="904.60" y1="1168.40" x2="933.00" y2="1168.40" stroke="#6A4BA6" stroke-width="2.4"/>
<text x="939.20" y="1174.20" font-family='"Liberation Sans", Arial, sans-serif' font-size="16.00" fill="#000" textLength="53.77" lengthAdjust="spacingAndGlyphs" stroke="#000" stroke-width="0.25">stage_T</text>
<line x1="904.60" y1="1189.40" x2="933.00" y2="1189.40" stroke="#BDBDBD" stroke-width="2.4"/>
<text x="939.20" y="1195.10" font-family='"Liberation Sans", Arial, sans-serif' font-size="16.00" fill="#000" textLength="55.42" lengthAdjust="spacingAndGlyphs" stroke="#000" stroke-width="0.25">stage_N</text>
<line x1="904.60" y1="1210.20" x2="933.00" y2="1210.20" stroke="#E5A021" stroke-width="2.4"/>
<text x="938.62" y="1216.10" font-family='"Liberation Sans", Arial, sans-serif' font-size="16.00" fill="#000" textLength="71.12" lengthAdjust="spacingAndGlyphs" stroke="#000" stroke-width="0.25">nomogram</text>
<text x="53.01" y="1620.80" font-family='"Liberation Serif", "Times New Roman", serif' font-size="32.20" fill="#111" textLength="15.68" lengthAdjust="spacingAndGlyphs">F</text>
<rect x="75.95" y="1646.80" width="455.95" height="398.40" fill="none" stroke="#222" stroke-width="1.3"/>
<line x1="88.75" y1="2045.20" x2="88.75" y2="2055.20" stroke="#333" stroke-width="1.3"/>
<text x="77.41" y="2079.70" font-family='"Liberation Sans", Arial, sans-serif' font-size="16.30" fill="#000" stroke="#000" stroke-width="0.25">0.0</text>
<line x1="173.99" y1="2045.20" x2="173.99" y2="2055.20" stroke="#333" stroke-width="1.3"/>
<text x="162.75" y="2079.70" font-family='"Liberation Sans", Arial, sans-serif' font-size="16.30" fill="#000" stroke="#000" stroke-width="0.25">0.2</text>
<line x1="259.23" y1="2045.20" x2="259.23" y2="2055.20" stroke="#333" stroke-width="1.3"/>
<text x="247.82" y="2079.70" font-family='"Liberation Sans", Arial, sans-serif' font-size="16.30" fill="#000" stroke="#000" stroke-width="0.25">0.4</text>
<line x1="344.47" y1="2045.20" x2="344.47" y2="2055.20" stroke="#333" stroke-width="1.3"/>
<text x="333.17" y="2079.70" font-family='"Liberation Sans", Arial, sans-serif' font-size="16.30" fill="#000" stroke="#000" stroke-width="0.25">0.6</text>
<line x1="429.71" y1="2045.20" x2="429.71" y2="2055.20" stroke="#333" stroke-width="1.3"/>
<text x="418.41" y="2079.70" font-family='"Liberation Sans", Arial, sans-serif' font-size="16.30" fill="#000" stroke="#000" stroke-width="0.25">0.8</text>
<line x1="514.95" y1="2045.20" x2="514.95" y2="2055.20" stroke="#333" stroke-width="1.3"/>
<text x="503.31" y="2079.70" font-family='"Liberation Sans", Arial, sans-serif' font-size="16.30" fill="#000" stroke="#000" stroke-width="0.25">1.0</text>
<line x1="65.95" y1="2029.90" x2="75.95" y2="2029.90" stroke="#333" stroke-width="1.3"/>
<g transform="translate(53.65,0) rotate(-90)"><text x="-2050.58" y="0.00" font-family='"Liberation Sans", Arial, sans-serif' font-size="16.30" fill="#000" stroke="#000" stroke-width="0.25">−0.05</text></g>
<line x1="65.95" y1="1941.60" x2="75.95" y2="1941.60" stroke="#333" stroke-width="1.3"/>
<g transform="translate(53.65,0) rotate(-90)"><text x="-1957.47" y="0.00" font-family='"Liberation Sans", Arial, sans-serif' font-size="16.30" fill="#000" stroke="#000" stroke-width="0.25">0.00</text></g>
<line x1="65.95" y1="1853.30" x2="75.95" y2="1853.30" stroke="#333" stroke-width="1.3"/>
<g transform="translate(53.65,0) rotate(-90)"><text x="-1869.14" y="0.00" font-family='"Liberation Sans", Arial, sans-serif' font-size="16.30" fill="#000" stroke="#000" stroke-width="0.25">0.05</text></g>
<line x1="65.95" y1="1765.00" x2="75.95" y2="1765.00" stroke="#333" stroke-width="1.3"/>
<g transform="translate(53.65,0) rotate(-90)"><text x="-1780.87" y="0.00" font-family='"Liberation Sans", Arial, sans-serif' font-size="16.30" fill="#000" stroke="#000" stroke-width="0.25">0.10</text></g>
<line x1="65.95" y1="1676.70" x2="75.95" y2="1676.70" stroke="#333" stroke-width="1.3"/>
<g transform="translate(53.65,0) rotate(-90)"><text x="-1692.54" y="0.00" font-family='"Liberation Sans", Arial, sans-serif' font-size="16.30" fill="#000" stroke="#000" stroke-width="0.25">0.15</text></g>
<text x="228.11" y="2118.50" font-family='"Liberation Sans", Arial, sans-serif' font-size="16.30" fill="#000" stroke="#000" stroke-width="0.25">Threshold probability</text>
<g transform="translate(15.25,0) rotate(-90)"><text x="-1885.43" y="0.00" font-family='"Liberation Sans", Arial, sans-serif' font-size="16.30" fill="#000" stroke="#000" stroke-width="0.25">Net benefit</text></g>
<defs><clipPath id="clipF"><rect x="75.95" y="1646.80" width="455.95" height="398.40"/></clipPath></defs>
<g clip-path="url(#clipF)">
<line x1="93.01" y1="1941.60" x2="514.95" y2="1941.60" stroke="#000" stroke-width="2.6" stroke-linecap="round"/>
<polyline points="93.01,1659.75 94.46,1664.88 95.92,1670.04 97.37,1675.24 98.82,1680.48 100.28,1685.75 101.73,1691.06 103.18,1696.40 104.63,1701.79 106.09,1707.21 107.54,1712.67 108.99,1718.17 110.44,1723.71 111.90,1729.29 113.35,1734.91 114.80,1740.57 116.25,1746.27 117.71,1752.02 119.16,1757.80 120.61,1763.63 122.06,1769.50 123.52,1775.42 124.97,1781.38 126.42,1787.38 127.88,1793.43 129.33,1799.52 130.78,1805.66 132.23,1811.85 133.69,1818.08 135.14,1824.37 136.59,1830.70 138.04,1837.08 139.50,1843.50 140.95,1849.98 142.40,1856.51 143.85,1863.09 145.31,1869.72 146.76,1876.41 148.21,1883.14 149.66,1889.93 151.12,1896.78 152.57,1903.68 154.02,1910.63 155.48,1917.64 156.93,1924.71 158.38,1931.84 159.83,1939.02 161.29,1946.26 162.74,1953.57 164.19,1960.93 165.64,1968.35 167.10,1975.84 168.55,1983.39 170.00,1991.00 171.45,1998.68 172.91,2006.42 174.36,2014.23 175.81,2022.11 177.26,2030.05 178.72,2038.06 180.17,2046.14" fill="none" stroke="#2E6B2F" stroke-width="1.7" stroke-linejoin="round" stroke-linecap="round"/>
<polyline points="93.10,1661.20 125.50,1766.00 127.20,1764.50 130.60,1850.80 140.10,1877.00 148.10,1900.30 162.70,1941.20 178.70,1986.40" fill="none" stroke="#233B85" stroke-width="2.7" stroke-linejoin="round" stroke-linecap="round"/>
<polyline points="93.10,1661.20 123.30,1766.00 126.60,1795.30 135.70,1815.80 139.40,1842.00 144.50,1853.70 145.20,1866.80 146.60,1900.30 149.60,1919.30 155.40,1932.40 162.70,1952.80 178.70,1990.70" fill="none" stroke="#C5131B" stroke-width="2.7" stroke-linejoin="round" stroke-linecap="round"/>
<polyline points="93.10,1661.20 123.30,1766.00 126.20,1798.30 135.70,1826.00 142.30,1861.00 143.70,1906.20 152.50,1938.30 156.90,1903.30 183.10,1924.40" fill="none" stroke="#F4CB2B" stroke-width="2.7" stroke-linejoin="round" stroke-linecap="round"/>
<polyline points="93.10,1661.20 123.30,1766.00 126.60,1795.30 136.20,1814.80 139.40,1855.20 178.70,1920.80 199.10,1962.30 203.50,1931.00 280.00,1937.90 328.00,1946.90" fill="none" stroke="#3D8541" stroke-width="2.9" stroke-linejoin="round" stroke-linecap="round"/>
<polyline points="93.10,1661.20 115.50,1729.80 123.60,1759.70 128.30,1775.00 134.90,1793.20 139.90,1789.90 144.70,1794.30 152.00,1813.40 157.40,1818.50 161.50,1816.80 165.80,1809.00 169.80,1805.80 174.50,1808.40 178.50,1820.00 183.00,1831.00 188.00,1850.00 194.80,1880.00 203.50,1892.30 208.60,1891.60 213.00,1907.60 216.60,1926.60 221.00,1936.80 226.80,1926.60 233.40,1919.30 238.50,1919.60 246.50,1925.10 253.10,1921.90 261.80,1912.70 267.60,1910.30 272.00,1912.70 280.00,1915.50 314.30,1931.70 318.60,1935.50 323.60,1931.10 326.70,1922.40 331.70,1917.40 336.10,1920.50 348.50,1927.10 352.90,1928.00 357.90,1934.20 361.00,1954.80 366.00,1961.00 374.70,1938.60 382.20,1958.50 386.50,1965.40 390.90,1966.00 404.60,1973.20 414.60,1979.70 425.80,1988.40" fill="none" stroke="#56AE48" stroke-width="2.9" stroke-linejoin="round" stroke-linecap="round"/>
</g>
<rect x="379.70" y="1646.80" width="152.20" height="122.30" fill="#fff" stroke="#222" stroke-width="1.3"/>
<line x1="390.70" y1="1662.10" x2="414.60" y2="1662.10" stroke="#000" stroke-width="2.6"/>
<text x="425.01" y="1666.90" font-family='"Liberation Sans", Arial, sans-serif' font-size="13.00" fill="#000" textLength="31.70" lengthAdjust="spacingAndGlyphs" stroke="#000" stroke-width="0.25">None</text>
<line x1="390.70" y1="1677.40" x2="414.60" y2="1677.40" stroke="#2E6B2F" stroke-width="2.6"/>
<text x="426.07" y="1682.20" font-family='"Liberation Sans", Arial, sans-serif' font-size="13.00" fill="#000" textLength="14.74" lengthAdjust="spacingAndGlyphs" stroke="#000" stroke-width="0.25">All</text>
<line x1="390.70" y1="1692.70" x2="414.60" y2="1692.70" stroke="#233B85" stroke-width="2.6"/>
<text x="425.25" y="1697.50" font-family='"Liberation Sans", Arial, sans-serif' font-size="13.00" fill="#000" textLength="100.27" lengthAdjust="spacingAndGlyphs" stroke="#000" stroke-width="0.25">pathologic_stage</text>
<line x1="390.70" y1="1708.00" x2="414.60" y2="1708.00" stroke="#C5131B" stroke-width="2.6"/>
<text x="425.74" y="1712.80" font-family='"Liberation Sans", Arial, sans-serif' font-size="13.00" fill="#000" textLength="47.91" lengthAdjust="spacingAndGlyphs" stroke="#000" stroke-width="0.25">stage_T</text>
<line x1="390.70" y1="1723.30" x2="414.60" y2="1723.30" stroke="#F4CB2B" stroke-width="2.6"/>
<text x="425.90" y="1728.10" font-family='"Liberation Sans", Arial, sans-serif' font-size="13.00" fill="#000" textLength="75.18" lengthAdjust="spacingAndGlyphs" stroke="#000" stroke-width="0.25">tumor_grade</text>
<line x1="390.70" y1="1738.60" x2="414.60" y2="1738.60" stroke="#3D8541" stroke-width="2.6"/>
<text x="425.74" y="1743.40" font-family='"Liberation Sans", Arial, sans-serif' font-size="13.00" fill="#000" textLength="49.39" lengthAdjust="spacingAndGlyphs" stroke="#000" stroke-width="0.25">stage_N</text>
<line x1="390.70" y1="1753.90" x2="414.60" y2="1753.90" stroke="#56AE48" stroke-width="2.6"/>
<text x="425.22" y="1758.70" font-family='"Liberation Sans", Arial, sans-serif' font-size="13.00" fill="#000" textLength="63.38" lengthAdjust="spacingAndGlyphs" stroke="#000" stroke-width="0.25">nomogram</text>
<text x="544.48" y="1623.80" font-family='"Liberation Serif", "Times New Roman", serif' font-size="32.20" fill="#111" textLength="23.33" lengthAdjust="spacingAndGlyphs">G</text>
<rect x="611.00" y="1641.80" width="455.40" height="397.90" fill="none" stroke="#222" stroke-width="1.3"/>
<line x1="623.30" y1="2039.70" x2="623.30" y2="2049.70" stroke="#333" stroke-width="1.3"/>
<text x="611.96" y="2074.20" font-family='"Liberation Sans", Arial, sans-serif' font-size="16.30" fill="#000" stroke="#000" stroke-width="0.25">0.0</text>
<line x1="708.70" y1="2039.70" x2="708.70" y2="2049.70" stroke="#333" stroke-width="1.3"/>
<text x="697.46" y="2074.20" font-family='"Liberation Sans", Arial, sans-serif' font-size="16.30" fill="#000" stroke="#000" stroke-width="0.25">0.2</text>
<line x1="794.10" y1="2039.70" x2="794.10" y2="2049.70" stroke="#333" stroke-width="1.3"/>
<text x="782.69" y="2074.20" font-family='"Liberation Sans", Arial, sans-serif' font-size="16.30" fill="#000" stroke="#000" stroke-width="0.25">0.4</text>
<line x1="879.50" y1="2039.70" x2="879.50" y2="2049.70" stroke="#333" stroke-width="1.3"/>
<text x="868.20" y="2074.20" font-family='"Liberation Sans", Arial, sans-serif' font-size="16.30" fill="#000" stroke="#000" stroke-width="0.25">0.6</text>
<line x1="964.90" y1="2039.70" x2="964.90" y2="2049.70" stroke="#333" stroke-width="1.3"/>
<text x="953.60" y="2074.20" font-family='"Liberation Sans", Arial, sans-serif' font-size="16.30" fill="#000" stroke="#000" stroke-width="0.25">0.8</text>
<line x1="1050.30" y1="2039.70" x2="1050.30" y2="2049.70" stroke="#333" stroke-width="1.3"/>
<text x="1038.66" y="2074.20" font-family='"Liberation Sans", Arial, sans-serif' font-size="16.30" fill="#000" stroke="#000" stroke-width="0.25">1.0</text>
<line x1="601.00" y1="1982.50" x2="611.00" y2="1982.50" stroke="#333" stroke-width="1.3"/>
<g transform="translate(588.70,0) rotate(-90)"><text x="-1993.84" y="0.00" font-family='"Liberation Sans", Arial, sans-serif' font-size="16.30" fill="#000" stroke="#000" stroke-width="0.25">0.0</text></g>
<line x1="601.00" y1="1897.50" x2="611.00" y2="1897.50" stroke="#333" stroke-width="1.3"/>
<g transform="translate(588.70,0) rotate(-90)"><text x="-1908.76" y="0.00" font-family='"Liberation Sans", Arial, sans-serif' font-size="16.30" fill="#000" stroke="#000" stroke-width="0.25">0.1</text></g>
<line x1="601.00" y1="1812.50" x2="611.00" y2="1812.50" stroke="#333" stroke-width="1.3"/>
<g transform="translate(588.70,0) rotate(-90)"><text x="-1823.74" y="0.00" font-family='"Liberation Sans", Arial, sans-serif' font-size="16.30" fill="#000" stroke="#000" stroke-width="0.25">0.2</text></g>
<line x1="601.00" y1="1727.50" x2="611.00" y2="1727.50" stroke="#333" stroke-width="1.3"/>
<g transform="translate(588.70,0) rotate(-90)"><text x="-1738.80" y="0.00" font-family='"Liberation Sans", Arial, sans-serif' font-size="16.30" fill="#000" stroke="#000" stroke-width="0.25">0.3</text></g>
<line x1="601.00" y1="1642.50" x2="611.00" y2="1642.50" stroke="#333" stroke-width="1.3"/>
<g transform="translate(588.70,0) rotate(-90)"><text x="-1653.91" y="0.00" font-family='"Liberation Sans", Arial, sans-serif' font-size="16.30" fill="#000" stroke="#000" stroke-width="0.25">0.4</text></g>
<text x="762.88" y="2113.00" font-family='"Liberation Sans", Arial, sans-serif' font-size="16.30" fill="#000" stroke="#000" stroke-width="0.25">Threshold probability</text>
<g transform="translate(550.30,0) rotate(-90)"><text x="-1880.18" y="0.00" font-family='"Liberation Sans", Arial, sans-serif' font-size="16.30" fill="#000" stroke="#000" stroke-width="0.25">Net benefit</text></g>
<defs><clipPath id="clipG"><rect x="611.00" y="1641.80" width="455.40" height="397.90"/></clipPath></defs>
<g clip-path="url(#clipG)">
<line x1="627.57" y1="1982.50" x2="1050.30" y2="1982.50" stroke="#000" stroke-width="2.6" stroke-linecap="round"/>
<polyline points="627.57,1657.95 630.56,1661.70 633.55,1665.49 636.54,1669.34 639.53,1673.25 642.51,1677.21 645.50,1681.23 648.49,1685.32 651.48,1689.46 654.47,1693.67 657.46,1697.93 660.45,1702.27 663.44,1706.67 666.43,1711.14 669.42,1715.68 672.40,1720.30 675.39,1724.98 678.38,1729.74 681.37,1734.58 684.36,1739.50 687.35,1744.50 690.34,1749.58 693.33,1754.75 696.32,1760.00 699.31,1765.35 702.29,1770.78 705.28,1776.31 708.27,1781.94 711.26,1787.66 714.25,1793.49 717.24,1799.42 720.23,1805.46 723.22,1811.61 726.21,1817.88 729.20,1824.26 732.18,1830.76 735.17,1837.38 738.16,1844.13 741.15,1851.01 744.14,1858.02 747.13,1865.18 750.12,1872.47 753.11,1879.91 756.10,1887.51 759.09,1895.26 762.07,1903.17 765.06,1911.24 768.05,1919.49 771.04,1927.91 774.03,1936.52 777.02,1945.31 780.01,1954.30 783.00,1963.49 785.99,1972.89 788.98,1982.50 791.96,1992.33 794.95,2002.40 797.94,2012.70 800.93,2023.25 803.92,2034.06 806.91,2045.13" fill="none" stroke="#2E6B2F" stroke-width="1.7" stroke-linejoin="round" stroke-linecap="round"/>
<polyline points="627.57,1657.95 630.42,1661.52 633.26,1665.13 636.11,1668.79 638.96,1672.50 641.80,1676.26 644.65,1680.08 647.50,1683.95 650.34,1687.87 653.19,1691.85 656.04,1695.89 658.88,1699.99 661.73,1704.15 664.58,1708.37 667.42,1712.65 670.27,1716.99 673.12,1721.41 675.96,1725.88 678.81,1730.43 681.66,1735.05 684.50,1739.74 687.35,1744.50 690.20,1749.34 693.04,1754.25 695.89,1759.25 698.74,1764.32 701.58,1769.48 704.43,1774.72 707.28,1780.05 710.12,1785.47 712.97,1790.98 717.30,1772.70 722.10,1776.80 724.60,1824.00 733.60,1834.10 739.72,1841.31 745.84,1848.82 751.96,1856.63 758.09,1864.77 764.21,1873.26 770.33,1882.12 776.45,1891.38 782.57,1901.05 788.69,1911.19 794.81,1921.80 800.94,1932.94 807.06,1944.64 813.18,1956.94 819.30,1969.90" fill="none" stroke="#233B85" stroke-width="2.7" stroke-linejoin="round" stroke-linecap="round"/>
<polyline points="627.57,1657.95 631.11,1662.40 634.66,1666.92 638.20,1671.51 641.75,1676.19 645.29,1680.94 648.83,1685.79 652.38,1690.71 655.92,1695.73 659.47,1700.84 663.01,1706.04 666.56,1711.34 670.10,1716.73 673.64,1722.23 677.19,1727.83 680.73,1733.54 684.28,1739.36 687.82,1745.29 691.36,1751.34 694.91,1757.52 698.45,1763.81 702.00,1770.23 705.54,1776.79 709.08,1783.48 712.63,1790.31 716.17,1797.29 719.72,1804.42 723.26,1811.70 726.80,1819.14 730.35,1826.75 733.89,1834.52 742.50,1827.30 759.60,1849.20 763.70,1904.10 767.67,1908.66 771.64,1913.35 775.61,1918.17 779.59,1923.14 783.56,1928.26 787.53,1933.52 791.50,1938.96 795.47,1944.56 799.44,1950.33 803.41,1956.30 807.39,1962.45 811.36,1968.82 815.33,1975.40 819.30,1982.20" fill="none" stroke="#C5131B" stroke-width="2.7" stroke-linejoin="round" stroke-linecap="round"/>
<polyline points="627.57,1657.95 631.11,1662.40 634.66,1666.92 638.20,1671.51 641.75,1676.19 645.29,1680.94 648.83,1685.79 652.38,1690.71 655.92,1695.73 659.47,1700.84 663.01,1706.04 666.56,1711.34 670.10,1716.73 673.64,1722.23 677.19,1727.83 680.73,1733.54 684.28,1739.36 687.82,1745.29 691.36,1751.34 694.91,1757.52 698.45,1763.81 702.00,1770.23 705.54,1776.79 709.08,1783.48 712.63,1790.31 716.17,1797.29 719.72,1804.42 723.26,1811.70 726.80,1819.14 730.35,1826.75 733.89,1834.52 754.80,1884.20 758.90,1923.90 780.90,1971.90 785.70,1939.70 841.20,1968.50" fill="none" stroke="#F4CB2B" stroke-width="2.7" stroke-linejoin="round" stroke-linecap="round"/>
<polyline points="627.57,1657.95 631.11,1662.40 634.66,1666.92 638.20,1671.51 641.75,1676.19 645.29,1680.94 648.83,1685.79 652.38,1690.71 655.92,1695.73 659.47,1700.84 663.01,1706.04 666.56,1711.34 670.10,1716.73 673.64,1722.23 677.19,1727.83 680.73,1733.54 684.28,1739.36 687.82,1745.29 691.36,1751.34 694.91,1757.52 698.45,1763.81 702.00,1770.23 705.54,1776.79 709.08,1783.48 712.63,1790.31 716.17,1797.29 719.72,1804.42 723.26,1811.70 726.80,1819.14 730.35,1826.75 733.89,1834.52 738.40,1812.20 751.40,1825.20 755.50,1797.80 762.84,1801.07 770.19,1804.52 777.53,1808.15 784.87,1811.98 792.21,1816.03 799.56,1820.31 806.90,1824.86 814.24,1829.68 821.59,1834.82 828.93,1840.30 836.27,1846.15 843.61,1852.42 850.96,1859.15 858.30,1866.40" fill="none" stroke="#3D8541" stroke-width="2.9" stroke-linejoin="round" stroke-linecap="round"/>
<polyline points="627.57,1657.95 629.29,1660.10 631.01,1662.27 632.74,1664.46 634.46,1666.66 636.18,1668.88 637.90,1671.12 639.63,1673.38 641.35,1675.66 643.07,1677.95 644.79,1680.27 646.51,1682.61 648.24,1684.96 649.96,1687.34 651.68,1689.74 653.40,1692.16 655.13,1694.59 656.85,1697.06 658.57,1699.54 660.29,1702.04 662.01,1704.57 663.74,1707.12 665.46,1709.69 667.18,1712.28 668.90,1714.90 670.63,1717.54 672.35,1720.21 674.07,1722.90 675.79,1725.61 677.51,1728.35 679.24,1731.12 682.40,1730.20 687.40,1725.10 690.60,1732.20 693.30,1743.20 695.40,1759.70 699.50,1764.50 704.30,1763.80 709.10,1772.70 713.20,1775.40 717.30,1769.30 721.40,1772.70 727.60,1779.50 733.80,1783.70 737.90,1788.50 742.70,1799.40 746.80,1803.50 750.90,1793.30 755.70,1796.00 759.80,1809.00 763.90,1799.40 772.80,1804.90 776.30,1797.40 781.10,1769.90 785.90,1772.70 790.00,1783.00 794.10,1770.60 802.30,1773.40 807.10,1776.80 811.20,1785.70 814.70,1804.20 819.50,1780.90 824.20,1781.90" fill="none" stroke="#56AE48" stroke-width="2.9" stroke-linejoin="round" stroke-linecap="round"/>
</g>
<rect x="914.20" y="1641.80" width="152.20" height="122.30" fill="#fff" stroke="#222" stroke-width="1.3"/>
<line x1="925.20" y1="1657.10" x2="949.10" y2="1657.10" stroke="#000" stroke-width="2.6"/>
<text x="959.51" y="1661.90" font-family='"Liberation Sans", Arial, sans-serif' font-size="13.00" fill="#000" textLength="31.70" lengthAdjust="spacingAndGlyphs" stroke="#000" stroke-width="0.25">None</text>
<line x1="925.20" y1="1672.40" x2="949.10" y2="1672.40" stroke="#2E6B2F" stroke-width="2.6"/>
<text x="960.57" y="1677.20" font-family='"Liberation Sans", Arial, sans-serif' font-size="13.00" fill="#000" textLength="14.74" lengthAdjust="spacingAndGlyphs" stroke="#000" stroke-width="0.25">All</text>
<line x1="925.20" y1="1687.70" x2="949.10" y2="1687.70" stroke="#233B85" stroke-width="2.6"/>
<text x="959.75" y="1692.50" font-family='"Liberation Sans", Arial, sans-serif' font-size="13.00" fill="#000" textLength="100.27" lengthAdjust="spacingAndGlyphs" stroke="#000" stroke-width="0.25">pathologic_stage</text>
<line x1="925.20" y1="1703.00" x2="949.10" y2="1703.00" stroke="#C5131B" stroke-width="2.6"/>
<text x="960.24" y="1707.80" font-family='"Liberation Sans", Arial, sans-serif' font-size="13.00" fill="#000" textLength="47.91" lengthAdjust="spacingAndGlyphs" stroke="#000" stroke-width="0.25">stage_T</text>
<line x1="925.20" y1="1718.30" x2="949.10" y2="1718.30" stroke="#F4CB2B" stroke-width="2.6"/>
<text x="960.40" y="1723.10" font-family='"Liberation Sans", Arial, sans-serif' font-size="13.00" fill="#000" textLength="75.18" lengthAdjust="spacingAndGlyphs" stroke="#000" stroke-width="0.25">tumor_grade</text>
<line x1="925.20" y1="1733.60" x2="949.10" y2="1733.60" stroke="#3D8541" stroke-width="2.6"/>
<text x="960.24" y="1738.40" font-family='"Liberation Sans", Arial, sans-serif' font-size="13.00" fill="#000" textLength="49.39" lengthAdjust="spacingAndGlyphs" stroke="#000" stroke-width="0.25">stage_N</text>
<line x1="925.20" y1="1748.90" x2="949.10" y2="1748.90" stroke="#56AE48" stroke-width="2.6"/>
<text x="959.72" y="1753.70" font-family='"Liberation Sans", Arial, sans-serif' font-size="13.00" fill="#000" textLength="63.38" lengthAdjust="spacingAndGlyphs" stroke="#000" stroke-width="0.25">nomogram</text>
<text x="1090.25" y="1625.50" font-family='"Liberation Serif", "Times New Roman", serif' font-size="32.20" fill="#111" textLength="24.54" lengthAdjust="spacingAndGlyphs">H</text>
<rect x="1145.10" y="1639.00" width="456.20" height="398.30" fill="none" stroke="#222" stroke-width="1.3"/>
<line x1="1157.85" y1="2037.30" x2="1157.85" y2="2047.30" stroke="#333" stroke-width="1.3"/>
<text x="1146.51" y="2071.80" font-family='"Liberation Sans", Arial, sans-serif' font-size="16.30" fill="#000" stroke="#000" stroke-width="0.25">0.0</text>
<line x1="1243.09" y1="2037.30" x2="1243.09" y2="2047.30" stroke="#333" stroke-width="1.3"/>
<text x="1231.85" y="2071.80" font-family='"Liberation Sans", Arial, sans-serif' font-size="16.30" fill="#000" stroke="#000" stroke-width="0.25">0.2</text>
<line x1="1328.33" y1="2037.30" x2="1328.33" y2="2047.30" stroke="#333" stroke-width="1.3"/>
<text x="1316.92" y="2071.80" font-family='"Liberation Sans", Arial, sans-serif' font-size="16.30" fill="#000" stroke="#000" stroke-width="0.25">0.4</text>
<line x1="1413.57" y1="2037.30" x2="1413.57" y2="2047.30" stroke="#333" stroke-width="1.3"/>
<text x="1402.27" y="2071.80" font-family='"Liberation Sans", Arial, sans-serif' font-size="16.30" fill="#000" stroke="#000" stroke-width="0.25">0.6</text>
<line x1="1498.81" y1="2037.30" x2="1498.81" y2="2047.30" stroke="#333" stroke-width="1.3"/>
<text x="1487.51" y="2071.80" font-family='"Liberation Sans", Arial, sans-serif' font-size="16.30" fill="#000" stroke="#000" stroke-width="0.25">0.8</text>
<line x1="1584.05" y1="2037.30" x2="1584.05" y2="2047.30" stroke="#333" stroke-width="1.3"/>
<text x="1572.41" y="2071.80" font-family='"Liberation Sans", Arial, sans-serif' font-size="16.30" fill="#000" stroke="#000" stroke-width="0.25">1.0</text>
<line x1="1135.10" y1="1985.70" x2="1145.10" y2="1985.70" stroke="#333" stroke-width="1.3"/>
<g transform="translate(1122.80,0) rotate(-90)"><text x="-1997.04" y="0.00" font-family='"Liberation Sans", Arial, sans-serif' font-size="16.30" fill="#000" stroke="#000" stroke-width="0.25">0.0</text></g>
<line x1="1135.10" y1="1912.00" x2="1145.10" y2="1912.00" stroke="#333" stroke-width="1.3"/>
<g transform="translate(1122.80,0) rotate(-90)"><text x="-1923.26" y="0.00" font-family='"Liberation Sans", Arial, sans-serif' font-size="16.30" fill="#000" stroke="#000" stroke-width="0.25">0.1</text></g>
<line x1="1135.10" y1="1838.30" x2="1145.10" y2="1838.30" stroke="#333" stroke-width="1.3"/>
<g transform="translate(1122.80,0) rotate(-90)"><text x="-1849.54" y="0.00" font-family='"Liberation Sans", Arial, sans-serif' font-size="16.30" fill="#000" stroke="#000" stroke-width="0.25">0.2</text></g>
<line x1="1135.10" y1="1764.60" x2="1145.10" y2="1764.60" stroke="#333" stroke-width="1.3"/>
<g transform="translate(1122.80,0) rotate(-90)"><text x="-1775.90" y="0.00" font-family='"Liberation Sans", Arial, sans-serif' font-size="16.30" fill="#000" stroke="#000" stroke-width="0.25">0.3</text></g>
<line x1="1135.10" y1="1690.90" x2="1145.10" y2="1690.90" stroke="#333" stroke-width="1.3"/>
<g transform="translate(1122.80,0) rotate(-90)"><text x="-1702.31" y="0.00" font-family='"Liberation Sans", Arial, sans-serif' font-size="16.30" fill="#000" stroke="#000" stroke-width="0.25">0.4</text></g>
<text x="1297.38" y="2110.60" font-family='"Liberation Sans", Arial, sans-serif' font-size="16.30" fill="#000" stroke="#000" stroke-width="0.25">Threshold probability</text>
<g transform="translate(1084.40,0) rotate(-90)"><text x="-1877.58" y="0.00" font-family='"Liberation Sans", Arial, sans-serif' font-size="16.30" fill="#000" stroke="#000" stroke-width="0.25">Net benefit</text></g>
<defs><clipPath id="clipH"><rect x="1145.10" y="1639.00" width="456.20" height="398.30"/></clipPath></defs>
<g clip-path="url(#clipH)">
<line x1="1162.11" y1="1985.70" x2="1584.05" y2="1985.70" stroke="#000" stroke-width="2.6" stroke-linecap="round"/>
<polyline points="1162.11,1654.72 1165.52,1658.03 1168.93,1661.39 1172.34,1664.81 1175.75,1668.28 1179.16,1671.82 1182.57,1675.41 1185.98,1679.06 1189.39,1682.78 1192.80,1686.56 1196.21,1690.41 1199.62,1694.33 1203.03,1698.32 1206.44,1702.38 1209.85,1706.51 1213.26,1710.72 1216.67,1715.01 1220.08,1719.38 1223.48,1723.83 1226.89,1728.37 1230.30,1732.99 1233.71,1737.70 1237.12,1742.51 1240.53,1747.41 1243.94,1752.41 1247.35,1757.51 1250.76,1762.72 1254.17,1768.03 1257.58,1773.45 1260.99,1778.99 1264.40,1784.65 1267.81,1790.42 1271.22,1796.33 1274.63,1802.36 1278.04,1808.53 1281.45,1814.84 1284.86,1821.29 1288.27,1827.89 1291.68,1834.65 1295.09,1841.56 1298.50,1848.64 1301.91,1855.89 1305.32,1863.32 1308.72,1870.93 1312.13,1878.73 1315.54,1886.73 1318.95,1894.94 1322.36,1903.36 1325.77,1912.00 1329.18,1920.87 1332.59,1929.99 1336.00,1939.35 1339.41,1948.98 1342.82,1958.88 1346.23,1969.06 1349.64,1979.54 1353.05,1990.32 1356.46,2001.43 1359.87,2012.88 1363.28,2024.68 1366.69,2036.86" fill="none" stroke="#2E6B2F" stroke-width="1.7" stroke-linejoin="round" stroke-linecap="round"/>
<polyline points="1162.11,1654.72 1165.52,1658.03 1168.93,1661.39 1172.34,1664.81 1175.75,1668.28 1179.16,1671.82 1182.57,1675.41 1185.98,1679.06 1189.39,1682.78 1192.80,1686.56 1196.21,1690.41 1199.62,1694.33 1203.03,1698.32 1206.44,1702.38 1209.85,1706.51 1213.26,1710.72 1216.67,1715.01 1220.08,1719.38 1223.48,1723.83 1226.89,1728.37 1230.30,1732.99 1233.71,1737.70 1237.12,1742.51 1240.53,1747.41 1243.94,1752.41 1247.35,1757.51 1250.76,1762.72 1254.17,1768.03 1257.58,1773.45 1260.99,1778.99 1264.40,1784.65 1268.60,1766.80 1273.40,1775.00 1276.80,1817.50 1293.90,1834.70 1299.40,1840.10 1305.14,1846.19 1310.87,1852.53 1316.61,1859.14 1322.34,1866.05 1328.08,1873.26 1333.81,1880.80 1339.55,1888.70 1345.29,1896.98 1351.02,1905.66 1356.76,1914.79 1362.49,1924.38 1368.23,1934.49 1373.96,1945.14 1379.70,1956.40" fill="none" stroke="#233B85" stroke-width="2.7" stroke-linejoin="round" stroke-linecap="round"/>
<polyline points="1162.11,1654.72 1166.52,1659.00 1170.92,1663.38 1175.32,1667.84 1179.73,1672.41 1184.13,1677.08 1188.54,1681.85 1192.94,1686.72 1197.34,1691.71 1201.75,1696.82 1206.15,1702.04 1210.56,1707.38 1214.96,1712.86 1219.36,1718.46 1223.77,1724.20 1228.17,1730.09 1232.58,1736.12 1236.98,1742.31 1241.39,1748.65 1245.79,1755.16 1250.19,1761.84 1254.60,1768.70 1259.00,1775.75 1263.41,1782.98 1267.81,1790.42 1272.21,1798.08 1276.62,1805.95 1281.02,1814.04 1285.43,1822.38 1289.83,1830.97 1294.23,1839.82 1298.10,1838.70 1302.40,1826.90 1315.50,1841.20 1319.90,1887.30 1324.17,1891.43 1328.44,1895.69 1332.71,1900.11 1336.99,1904.67 1341.26,1909.39 1345.53,1914.29 1349.80,1919.36 1354.07,1924.62 1358.34,1930.08 1362.61,1935.75 1366.89,1941.64 1371.16,1947.77 1375.43,1954.15 1379.70,1960.80" fill="none" stroke="#C5131B" stroke-width="2.7" stroke-linejoin="round" stroke-linecap="round"/>
<polyline points="1162.11,1654.72 1166.52,1659.00 1170.92,1663.38 1175.32,1667.84 1179.73,1672.41 1184.13,1677.08 1188.54,1681.85 1192.94,1686.72 1197.34,1691.71 1201.75,1696.82 1206.15,1702.04 1210.56,1707.38 1214.96,1712.86 1219.36,1718.46 1223.77,1724.20 1228.17,1730.09 1232.58,1736.12 1236.98,1742.31 1241.39,1748.65 1245.79,1755.16 1250.19,1761.84 1254.60,1768.70 1259.00,1775.75 1263.41,1782.98 1267.81,1790.42 1272.21,1798.08 1276.62,1805.95 1281.02,1814.04 1285.43,1822.38 1289.83,1830.97 1294.23,1839.82 1313.60,1884.80 1318.60,1907.20 1344.80,1958.90 1379.70,1975.80 1409.60,1997.00" fill="none" stroke="#F4CB2B" stroke-width="2.7" stroke-linejoin="round" stroke-linecap="round"/>
<polyline points="1162.11,1654.72 1166.52,1659.00 1170.92,1663.38 1175.32,1667.84 1179.73,1672.41 1184.13,1677.08 1188.54,1681.85 1192.94,1686.72 1197.34,1691.71 1201.75,1696.82 1206.15,1702.04 1210.56,1707.38 1214.96,1712.86 1219.36,1718.46 1223.77,1724.20 1228.17,1730.09 1232.58,1736.12 1236.98,1742.31 1241.39,1748.65 1245.79,1755.16 1250.19,1761.84 1254.60,1768.70 1259.00,1775.75 1263.41,1782.98 1267.81,1790.42 1272.21,1798.08 1276.62,1805.95 1281.02,1814.04 1285.43,1822.38 1289.83,1830.97 1294.23,1839.82 1298.70,1825.60 1311.80,1838.10" fill="none" stroke="#3D8541" stroke-width="2.9" stroke-linejoin="round" stroke-linecap="round"/>
<polyline points="1162.11,1654.72 1163.31,1655.87 1164.50,1657.03 1165.69,1658.19 1166.89,1659.37 1168.08,1660.54 1169.27,1661.73 1170.47,1662.92 1171.66,1664.12 1172.85,1665.33 1174.05,1666.54 1175.24,1667.76 1176.43,1668.98 1177.63,1670.22 1178.82,1671.46 1180.01,1672.71 1181.21,1673.96 1182.40,1675.23 1183.59,1676.50 1184.79,1677.78 1185.98,1679.06 1187.17,1680.36 1188.37,1681.66 1189.56,1682.97 1190.75,1684.29 1191.95,1685.61 1193.14,1686.95 1194.33,1688.29 1195.53,1689.64 1196.72,1691.00 1197.91,1692.36 1203.50,1700.30 1211.70,1709.90 1219.90,1723.60 1229.50,1736.00 1233.60,1736.00 1239.10,1736.60 1243.20,1742.10 1246.00,1757.90 1250.80,1766.80 1255.60,1765.40 1261.00,1770.20 1267.90,1781.90 1272.70,1771.60 1280.90,1779.80 1285.70,1773.70 1297.40,1783.90 1302.20,1794.90 1307.00,1797.60 1311.80,1787.40 1320.00,1792.20 1324.10,1804.50 1332.30,1818.20 1341.20,1823.70 1345.30,1846.30 1349.50,1834.70 1354.20,1837.40 1358.40,1829.20" fill="none" stroke="#56AE48" stroke-width="2.9" stroke-linejoin="round" stroke-linecap="round"/>
</g>
<rect x="1449.10" y="1639.00" width="152.20" height="122.30" fill="#fff" stroke="#222" stroke-width="1.3"/>
<line x1="1460.10" y1="1654.30" x2="1484.00" y2="1654.30" stroke="#000" stroke-width="2.6"/>
<text x="1494.41" y="1659.10" font-family='"Liberation Sans", Arial, sans-serif' font-size="13.00" fill="#000" textLength="31.70" lengthAdjust="spacingAndGlyphs" stroke="#000" stroke-width="0.25">None</text>
<line x1="1460.10" y1="1669.60" x2="1484.00" y2="1669.60" stroke="#2E6B2F" stroke-width="2.6"/>
<text x="1495.47" y="1674.40" font-family='"Liberation Sans", Arial, sans-serif' font-size="13.00" fill="#000" textLength="14.74" lengthAdjust="spacingAndGlyphs" stroke="#000" stroke-width="0.25">All</text>
<line x1="1460.10" y1="1684.90" x2="1484.00" y2="1684.90" stroke="#233B85" stroke-width="2.6"/>
<text x="1494.65" y="1689.70" font-family='"Liberation Sans", Arial, sans-serif' font-size="13.00" fill="#000" textLength="100.27" lengthAdjust="spacingAndGlyphs" stroke="#000" stroke-width="0.25">pathologic_stage</text>
<line x1="1460.10" y1="1700.20" x2="1484.00" y2="1700.20" stroke="#C5131B" stroke-width="2.6"/>
<text x="1495.14" y="1705.00" font-family='"Liberation Sans", Arial, sans-serif' font-size="13.00" fill="#000" textLength="47.91" lengthAdjust="spacingAndGlyphs" stroke="#000" stroke-width="0.25">stage_T</text>
<line x1="1460.10" y1="1715.50" x2="1484.00" y2="1715.50" stroke="#F4CB2B" stroke-width="2.6"/>
<text x="1495.30" y="1720.30" font-family='"Liberation Sans", Arial, sans-serif' font-size="13.00" fill="#000" textLength="75.18" lengthAdjust="spacingAndGlyphs" stroke="#000" stroke-width="0.25">tumor_grade</text>
<line x1="1460.10" y1="1730.80" x2="1484.00" y2="1730.80" stroke="#3D8541" stroke-width="2.6"/>
<text x="1495.14" y="1735.60" font-family='"Liberation Sans", Arial, sans-serif' font-size="13.00" fill="#000" textLength="49.39" lengthAdjust="spacingAndGlyphs" stroke="#000" stroke-width="0.25">stage_N</text>
<line x1="1460.10" y1="1746.10" x2="1484.00" y2="1746.10" stroke="#56AE48" stroke-width="2.6"/>
<text x="1494.62" y="1750.90" font-family='"Liberation Sans", Arial, sans-serif' font-size="13.00" fill="#000" textLength="63.38" lengthAdjust="spacingAndGlyphs" stroke="#000" stroke-width="0.25">nomogram</text>
</svg></body></html>
